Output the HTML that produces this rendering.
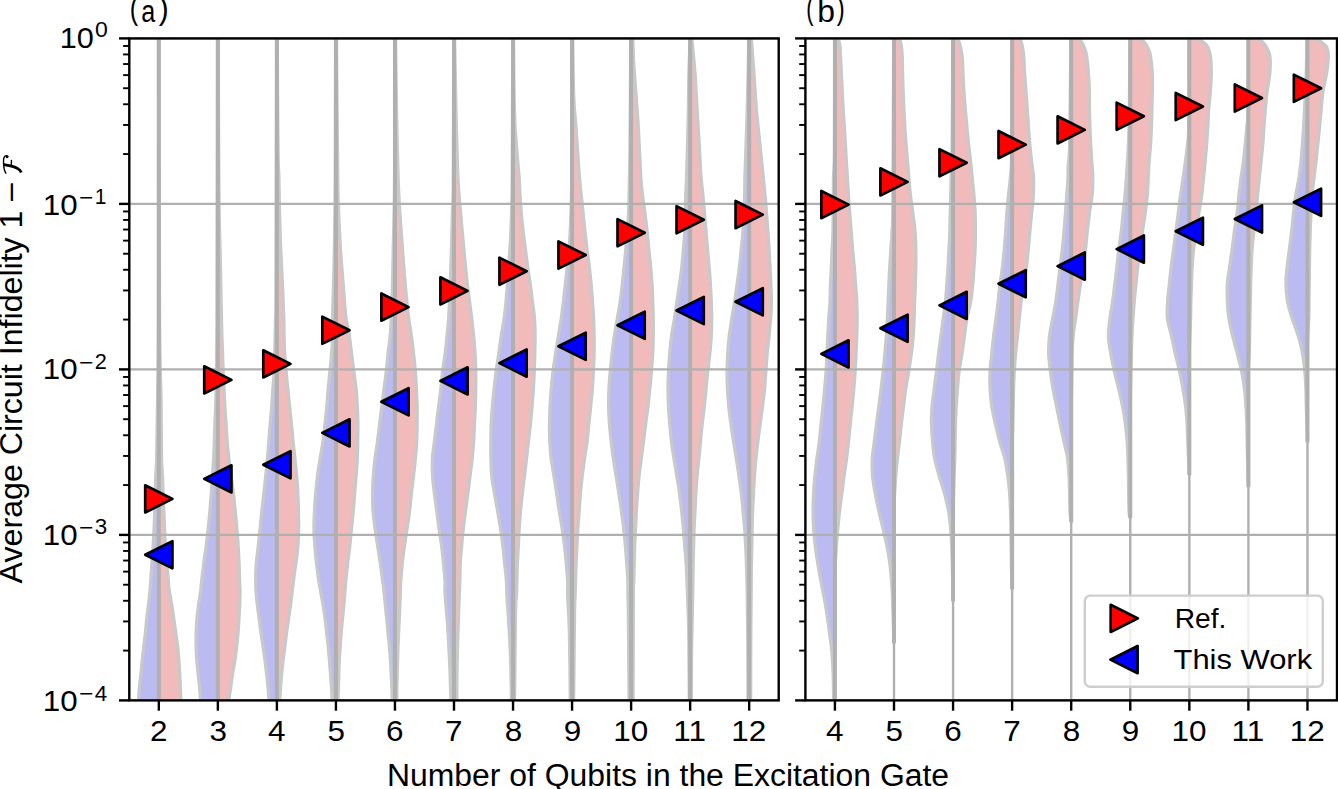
<!DOCTYPE html><html><head><meta charset="utf-8"><style>html,body{margin:0;padding:0;background:#fff;overflow:hidden;}svg{display:block}text{font-family:"Liberation Sans", sans-serif;fill:#000}</style></head><body>
<svg width="1338" height="789" viewBox="0 0 1338 789">
<rect width="1338" height="789" fill="#fff"/>
<defs><clipPath id="ca"><rect x="129.30" y="38.40" width="649.40" height="662.00"/></clipPath><clipPath id="cb"><rect x="805.40" y="38.40" width="531.60" height="662.00"/></clipPath></defs>
<g clip-path="url(#ca)">
<path d="M158.52,30.00 C158.48,78.00 158.48,256.33 158.32,318.00 C158.15,379.67 157.80,376.67 157.52,400.00 C157.23,423.33 156.92,445.33 156.62,458.00 C156.32,470.67 156.15,464.17 155.72,476.00 C155.28,487.83 154.67,514.33 154.02,529.00 C153.37,543.67 152.38,555.17 151.82,564.00 C151.25,572.83 150.92,577.67 150.62,582.00 C150.32,586.33 150.37,586.33 150.02,590.00 C149.67,593.67 149.05,599.33 148.52,604.00 C147.98,608.67 147.35,613.17 146.82,618.00 C146.28,622.83 145.85,628.17 145.32,633.00 C144.78,637.83 144.15,642.33 143.62,647.00 C143.08,651.67 142.60,656.33 142.12,661.00 C141.63,665.67 141.20,670.33 140.72,675.00 C140.23,679.67 139.55,685.17 139.22,689.00 C138.88,692.83 138.95,694.17 138.72,698.00 C138.48,701.83 137.97,709.67 137.82,712.00 L158.82,712.00 L158.82,30.00 Z" fill="#bbbbf2"/>
<path d="M158.52,30.00 C158.48,78.00 158.48,256.33 158.32,318.00 C158.15,379.67 157.80,376.67 157.52,400.00 C157.23,423.33 156.92,445.33 156.62,458.00 C156.32,470.67 156.15,464.17 155.72,476.00 C155.28,487.83 154.67,514.33 154.02,529.00 C153.37,543.67 152.38,555.17 151.82,564.00 C151.25,572.83 150.92,577.67 150.62,582.00 C150.32,586.33 150.37,586.33 150.02,590.00 C149.67,593.67 149.05,599.33 148.52,604.00 C147.98,608.67 147.35,613.17 146.82,618.00 C146.28,622.83 145.85,628.17 145.32,633.00 C144.78,637.83 144.15,642.33 143.62,647.00 C143.08,651.67 142.60,656.33 142.12,661.00 C141.63,665.67 141.20,670.33 140.72,675.00 C140.23,679.67 139.55,685.17 139.22,689.00 C138.88,692.83 138.95,694.17 138.72,698.00 C138.48,701.83 137.97,709.67 137.82,712.00" fill="none" stroke="#c8caca" stroke-width="3.20" stroke-linejoin="round" stroke-linecap="round"/>
<path d="M159.12,30.00 C159.20,78.00 159.28,256.33 159.62,318.00 C159.95,379.67 160.78,376.67 161.12,400.00 C161.45,423.33 161.38,445.33 161.62,458.00 C161.85,470.67 162.02,464.17 162.52,476.00 C163.02,487.83 164.12,517.17 164.62,529.00 C165.12,540.83 165.13,541.17 165.52,547.00 C165.90,552.83 166.42,558.17 166.92,564.00 C167.42,569.83 168.13,577.67 168.52,582.00 C168.90,586.33 168.70,586.33 169.22,590.00 C169.73,593.67 170.87,599.33 171.62,604.00 C172.37,608.67 173.02,613.17 173.72,618.00 C174.42,622.83 175.15,628.17 175.82,633.00 C176.48,637.83 177.18,642.33 177.72,647.00 C178.25,651.67 178.67,656.33 179.02,661.00 C179.37,665.67 179.57,670.33 179.82,675.00 C180.07,679.67 180.35,685.17 180.52,689.00 C180.68,692.83 180.72,694.17 180.82,698.00 C180.92,701.83 181.07,709.67 181.12,712.00 L158.82,712.00 L158.82,30.00 Z" fill="#f2bbbb"/>
<path d="M159.12,30.00 C159.20,78.00 159.28,256.33 159.62,318.00 C159.95,379.67 160.78,376.67 161.12,400.00 C161.45,423.33 161.38,445.33 161.62,458.00 C161.85,470.67 162.02,464.17 162.52,476.00 C163.02,487.83 164.12,517.17 164.62,529.00 C165.12,540.83 165.13,541.17 165.52,547.00 C165.90,552.83 166.42,558.17 166.92,564.00 C167.42,569.83 168.13,577.67 168.52,582.00 C168.90,586.33 168.70,586.33 169.22,590.00 C169.73,593.67 170.87,599.33 171.62,604.00 C172.37,608.67 173.02,613.17 173.72,618.00 C174.42,622.83 175.15,628.17 175.82,633.00 C176.48,637.83 177.18,642.33 177.72,647.00 C178.25,651.67 178.67,656.33 179.02,661.00 C179.37,665.67 179.57,670.33 179.82,675.00 C180.07,679.67 180.35,685.17 180.52,689.00 C180.68,692.83 180.72,694.17 180.82,698.00 C180.92,701.83 181.07,709.67 181.12,712.00" fill="none" stroke="#c8caca" stroke-width="3.20" stroke-linejoin="round" stroke-linecap="round"/>
<path d="M217.55,30.00 C217.45,78.00 217.20,258.17 216.95,318.00 C216.70,377.83 216.29,374.17 216.05,389.00 C215.82,403.83 215.75,401.17 215.55,407.00 C215.35,412.83 215.07,418.17 214.85,424.00 C214.64,429.83 214.47,436.33 214.25,442.00 C214.04,447.67 213.85,452.33 213.55,458.00 C213.25,463.67 212.84,470.17 212.45,476.00 C212.07,481.83 211.69,487.17 211.25,493.00 C210.82,498.83 210.39,505.00 209.85,511.00 C209.32,517.00 208.70,523.00 208.05,529.00 C207.40,535.00 206.69,541.17 205.95,547.00 C205.22,552.83 204.40,558.17 203.65,564.00 C202.90,569.83 201.94,577.67 201.45,582.00 C200.97,586.33 201.22,586.33 200.75,590.00 C200.29,593.67 199.29,599.33 198.65,604.00 C198.02,608.67 197.39,613.17 196.95,618.00 C196.52,622.83 196.20,628.17 196.05,633.00 C195.90,637.83 195.94,642.33 196.05,647.00 C196.17,651.67 196.39,656.33 196.75,661.00 C197.12,665.67 197.77,670.33 198.25,675.00 C198.74,679.67 199.30,685.17 199.65,689.00 C200.00,692.83 200.07,694.17 200.35,698.00 C200.64,701.83 201.19,709.67 201.35,712.00 L217.85,712.00 L217.85,30.00 Z" fill="#bbbbf2"/>
<path d="M217.55,30.00 C217.45,78.00 217.20,258.17 216.95,318.00 C216.70,377.83 216.29,374.17 216.05,389.00 C215.82,403.83 215.75,401.17 215.55,407.00 C215.35,412.83 215.07,418.17 214.85,424.00 C214.64,429.83 214.47,436.33 214.25,442.00 C214.04,447.67 213.85,452.33 213.55,458.00 C213.25,463.67 212.84,470.17 212.45,476.00 C212.07,481.83 211.69,487.17 211.25,493.00 C210.82,498.83 210.39,505.00 209.85,511.00 C209.32,517.00 208.70,523.00 208.05,529.00 C207.40,535.00 206.69,541.17 205.95,547.00 C205.22,552.83 204.40,558.17 203.65,564.00 C202.90,569.83 201.94,577.67 201.45,582.00 C200.97,586.33 201.22,586.33 200.75,590.00 C200.29,593.67 199.29,599.33 198.65,604.00 C198.02,608.67 197.39,613.17 196.95,618.00 C196.52,622.83 196.20,628.17 196.05,633.00 C195.90,637.83 195.94,642.33 196.05,647.00 C196.17,651.67 196.39,656.33 196.75,661.00 C197.12,665.67 197.77,670.33 198.25,675.00 C198.74,679.67 199.30,685.17 199.65,689.00 C200.00,692.83 200.07,694.17 200.35,698.00 C200.64,701.83 201.19,709.67 201.35,712.00" fill="none" stroke="#c8caca" stroke-width="3.20" stroke-linejoin="round" stroke-linecap="round"/>
<path d="M218.15,30.00 C218.30,58.33 218.72,163.33 219.05,200.00 C219.39,236.67 219.85,236.00 220.15,250.00 C220.45,264.00 220.62,272.67 220.85,284.00 C221.09,295.33 221.37,309.33 221.55,318.00 C221.74,326.67 221.77,330.17 221.95,336.00 C222.14,341.83 222.45,347.17 222.65,353.00 C222.85,358.83 222.92,365.00 223.15,371.00 C223.39,377.00 223.75,383.00 224.05,389.00 C224.35,395.00 224.60,401.17 224.95,407.00 C225.30,412.83 225.77,418.17 226.15,424.00 C226.54,429.83 226.80,436.33 227.25,442.00 C227.70,447.67 228.20,452.33 228.85,458.00 C229.50,463.67 230.39,470.17 231.15,476.00 C231.92,481.83 232.77,487.17 233.45,493.00 C234.14,498.83 234.67,505.00 235.25,511.00 C235.84,517.00 236.45,523.00 236.95,529.00 C237.45,535.00 237.89,541.17 238.25,547.00 C238.62,552.83 238.92,558.17 239.15,564.00 C239.39,569.83 239.50,577.67 239.65,582.00 C239.80,586.33 240.04,586.33 240.05,590.00 C240.07,593.67 239.92,599.33 239.75,604.00 C239.59,608.67 239.34,613.17 239.05,618.00 C238.77,622.83 238.45,628.17 238.05,633.00 C237.65,637.83 237.19,642.33 236.65,647.00 C236.12,651.67 235.55,656.33 234.85,661.00 C234.15,665.67 233.17,670.33 232.45,675.00 C231.74,679.67 231.10,685.17 230.55,689.00 C230.00,692.83 229.60,694.17 229.15,698.00 C228.70,701.83 228.07,709.67 227.85,712.00 L217.85,712.00 L217.85,30.00 Z" fill="#f2bbbb"/>
<path d="M218.15,30.00 C218.30,58.33 218.72,163.33 219.05,200.00 C219.39,236.67 219.85,236.00 220.15,250.00 C220.45,264.00 220.62,272.67 220.85,284.00 C221.09,295.33 221.37,309.33 221.55,318.00 C221.74,326.67 221.77,330.17 221.95,336.00 C222.14,341.83 222.45,347.17 222.65,353.00 C222.85,358.83 222.92,365.00 223.15,371.00 C223.39,377.00 223.75,383.00 224.05,389.00 C224.35,395.00 224.60,401.17 224.95,407.00 C225.30,412.83 225.77,418.17 226.15,424.00 C226.54,429.83 226.80,436.33 227.25,442.00 C227.70,447.67 228.20,452.33 228.85,458.00 C229.50,463.67 230.39,470.17 231.15,476.00 C231.92,481.83 232.77,487.17 233.45,493.00 C234.14,498.83 234.67,505.00 235.25,511.00 C235.84,517.00 236.45,523.00 236.95,529.00 C237.45,535.00 237.89,541.17 238.25,547.00 C238.62,552.83 238.92,558.17 239.15,564.00 C239.39,569.83 239.50,577.67 239.65,582.00 C239.80,586.33 240.04,586.33 240.05,590.00 C240.07,593.67 239.92,599.33 239.75,604.00 C239.59,608.67 239.34,613.17 239.05,618.00 C238.77,622.83 238.45,628.17 238.05,633.00 C237.65,637.83 237.19,642.33 236.65,647.00 C236.12,651.67 235.55,656.33 234.85,661.00 C234.15,665.67 233.17,670.33 232.45,675.00 C231.74,679.67 231.10,685.17 230.55,689.00 C230.00,692.83 229.60,694.17 229.15,698.00 C228.70,701.83 228.07,709.67 227.85,712.00" fill="none" stroke="#c8caca" stroke-width="3.20" stroke-linejoin="round" stroke-linecap="round"/>
<path d="M276.59,30.00 C276.47,75.00 276.07,252.00 275.89,300.00 C275.71,348.00 275.77,306.17 275.49,318.00 C275.21,329.83 274.64,359.17 274.19,371.00 C273.74,382.83 273.22,383.00 272.79,389.00 C272.36,395.00 272.02,401.17 271.59,407.00 C271.16,412.83 270.67,418.17 270.19,424.00 C269.71,429.83 269.14,436.33 268.69,442.00 C268.24,447.67 267.99,452.33 267.49,458.00 C266.99,463.67 266.29,470.17 265.69,476.00 C265.09,481.83 264.54,487.17 263.89,493.00 C263.24,498.83 262.44,505.00 261.79,511.00 C261.14,517.00 260.61,523.00 259.99,529.00 C259.37,535.00 258.69,541.50 258.09,547.00 C257.49,552.50 256.79,557.33 256.39,562.00 C255.99,566.67 255.77,570.33 255.69,575.00 C255.61,579.67 255.64,585.17 255.89,590.00 C256.14,594.83 256.67,599.33 257.19,604.00 C257.71,608.67 258.36,613.17 258.99,618.00 C259.62,622.83 260.31,628.17 260.99,633.00 C261.67,637.83 262.42,642.33 263.09,647.00 C263.76,651.67 264.39,656.33 264.99,661.00 C265.59,665.67 266.17,670.33 266.69,675.00 C267.21,679.67 267.74,685.17 268.09,689.00 C268.44,692.83 268.52,694.17 268.79,698.00 C269.06,701.83 269.54,709.67 269.69,712.00 L276.89,712.00 L276.89,30.00 Z" fill="#bbbbf2"/>
<path d="M276.59,30.00 C276.47,75.00 276.07,252.00 275.89,300.00 C275.71,348.00 275.77,306.17 275.49,318.00 C275.21,329.83 274.64,359.17 274.19,371.00 C273.74,382.83 273.22,383.00 272.79,389.00 C272.36,395.00 272.02,401.17 271.59,407.00 C271.16,412.83 270.67,418.17 270.19,424.00 C269.71,429.83 269.14,436.33 268.69,442.00 C268.24,447.67 267.99,452.33 267.49,458.00 C266.99,463.67 266.29,470.17 265.69,476.00 C265.09,481.83 264.54,487.17 263.89,493.00 C263.24,498.83 262.44,505.00 261.79,511.00 C261.14,517.00 260.61,523.00 259.99,529.00 C259.37,535.00 258.69,541.50 258.09,547.00 C257.49,552.50 256.79,557.33 256.39,562.00 C255.99,566.67 255.77,570.33 255.69,575.00 C255.61,579.67 255.64,585.17 255.89,590.00 C256.14,594.83 256.67,599.33 257.19,604.00 C257.71,608.67 258.36,613.17 258.99,618.00 C259.62,622.83 260.31,628.17 260.99,633.00 C261.67,637.83 262.42,642.33 263.09,647.00 C263.76,651.67 264.39,656.33 264.99,661.00 C265.59,665.67 266.17,670.33 266.69,675.00 C267.21,679.67 267.74,685.17 268.09,689.00 C268.44,692.83 268.52,694.17 268.79,698.00 C269.06,701.83 269.54,709.67 269.69,712.00" fill="none" stroke="#c8caca" stroke-width="3.20" stroke-linejoin="round" stroke-linecap="round"/>
<path d="M277.19,30.00 C277.34,50.00 277.79,125.33 278.09,150.00 C278.39,174.67 278.74,167.50 278.99,178.00 C279.24,188.50 279.29,201.17 279.59,213.00 C279.89,224.83 280.31,237.17 280.79,249.00 C281.27,260.83 281.99,272.83 282.49,284.00 C282.99,295.17 283.51,307.33 283.79,316.00 C284.07,324.67 284.04,329.83 284.19,336.00 C284.34,342.17 284.37,347.17 284.69,353.00 C285.01,358.83 285.56,365.00 286.09,371.00 C286.62,377.00 287.29,383.00 287.89,389.00 C288.49,395.00 289.09,401.17 289.69,407.00 C290.29,412.83 290.91,418.17 291.49,424.00 C292.07,429.83 292.62,436.33 293.19,442.00 C293.76,447.67 294.31,452.33 294.89,458.00 C295.47,463.67 296.19,470.17 296.69,476.00 C297.19,481.83 297.59,487.17 297.89,493.00 C298.19,498.83 298.36,505.00 298.49,511.00 C298.62,517.00 298.79,523.00 298.69,529.00 C298.59,535.00 298.27,541.83 297.89,547.00 C297.51,552.17 296.99,555.33 296.39,560.00 C295.79,564.67 294.96,570.00 294.29,575.00 C293.62,580.00 292.99,585.17 292.39,590.00 C291.79,594.83 291.31,599.33 290.69,604.00 C290.07,608.67 289.37,613.17 288.69,618.00 C288.01,622.83 287.22,628.17 286.59,633.00 C285.96,637.83 285.47,642.33 284.89,647.00 C284.31,651.67 283.64,656.33 283.09,661.00 C282.54,665.67 282.02,670.33 281.59,675.00 C281.16,679.67 280.77,685.17 280.49,689.00 C280.21,692.83 280.07,694.17 279.89,698.00 C279.71,701.83 279.47,709.67 279.39,712.00 L276.89,712.00 L276.89,30.00 Z" fill="#f2bbbb"/>
<path d="M277.19,30.00 C277.34,50.00 277.79,125.33 278.09,150.00 C278.39,174.67 278.74,167.50 278.99,178.00 C279.24,188.50 279.29,201.17 279.59,213.00 C279.89,224.83 280.31,237.17 280.79,249.00 C281.27,260.83 281.99,272.83 282.49,284.00 C282.99,295.17 283.51,307.33 283.79,316.00 C284.07,324.67 284.04,329.83 284.19,336.00 C284.34,342.17 284.37,347.17 284.69,353.00 C285.01,358.83 285.56,365.00 286.09,371.00 C286.62,377.00 287.29,383.00 287.89,389.00 C288.49,395.00 289.09,401.17 289.69,407.00 C290.29,412.83 290.91,418.17 291.49,424.00 C292.07,429.83 292.62,436.33 293.19,442.00 C293.76,447.67 294.31,452.33 294.89,458.00 C295.47,463.67 296.19,470.17 296.69,476.00 C297.19,481.83 297.59,487.17 297.89,493.00 C298.19,498.83 298.36,505.00 298.49,511.00 C298.62,517.00 298.79,523.00 298.69,529.00 C298.59,535.00 298.27,541.83 297.89,547.00 C297.51,552.17 296.99,555.33 296.39,560.00 C295.79,564.67 294.96,570.00 294.29,575.00 C293.62,580.00 292.99,585.17 292.39,590.00 C291.79,594.83 291.31,599.33 290.69,604.00 C290.07,608.67 289.37,613.17 288.69,618.00 C288.01,622.83 287.22,628.17 286.59,633.00 C285.96,637.83 285.47,642.33 284.89,647.00 C284.31,651.67 283.64,656.33 283.09,661.00 C282.54,665.67 282.02,670.33 281.59,675.00 C281.16,679.67 280.77,685.17 280.49,689.00 C280.21,692.83 280.07,694.17 279.89,698.00 C279.71,701.83 279.47,709.67 279.39,712.00" fill="none" stroke="#c8caca" stroke-width="3.20" stroke-linejoin="round" stroke-linecap="round"/>
<path d="M335.63,30.00 C335.56,54.67 335.44,141.50 335.23,178.00 C335.01,214.50 334.63,231.33 334.33,249.00 C334.03,266.67 333.73,272.83 333.43,284.00 C333.13,295.17 332.68,307.33 332.53,316.00 C332.38,324.67 332.68,329.83 332.53,336.00 C332.38,342.17 332.06,347.17 331.63,353.00 C331.19,358.83 330.51,365.00 329.93,371.00 C329.34,377.00 328.66,383.00 328.13,389.00 C327.59,395.00 327.26,401.17 326.73,407.00 C326.19,412.83 325.58,418.17 324.93,424.00 C324.28,429.83 323.63,436.33 322.83,442.00 C322.03,447.67 321.03,452.33 320.13,458.00 C319.23,463.67 318.18,470.17 317.43,476.00 C316.68,481.83 316.13,487.17 315.63,493.00 C315.13,498.83 314.71,505.00 314.43,511.00 C314.14,517.00 313.86,523.00 313.93,529.00 C313.99,535.00 314.39,541.17 314.83,547.00 C315.26,552.83 315.84,558.17 316.53,564.00 C317.21,569.83 318.29,577.67 318.93,582.00 C319.56,586.33 319.68,586.33 320.33,590.00 C320.98,593.67 322.06,599.33 322.83,604.00 C323.59,608.67 324.29,613.17 324.93,618.00 C325.56,622.83 326.08,628.17 326.63,633.00 C327.18,637.83 327.76,642.33 328.23,647.00 C328.69,651.67 329.04,656.33 329.43,661.00 C329.81,665.67 330.18,670.33 330.53,675.00 C330.88,679.67 331.28,685.17 331.53,689.00 C331.78,692.83 331.86,694.17 332.03,698.00 C332.19,701.83 332.44,709.67 332.53,712.00 L335.93,712.00 L335.93,30.00 Z" fill="#bbbbf2"/>
<path d="M335.63,30.00 C335.56,54.67 335.44,141.50 335.23,178.00 C335.01,214.50 334.63,231.33 334.33,249.00 C334.03,266.67 333.73,272.83 333.43,284.00 C333.13,295.17 332.68,307.33 332.53,316.00 C332.38,324.67 332.68,329.83 332.53,336.00 C332.38,342.17 332.06,347.17 331.63,353.00 C331.19,358.83 330.51,365.00 329.93,371.00 C329.34,377.00 328.66,383.00 328.13,389.00 C327.59,395.00 327.26,401.17 326.73,407.00 C326.19,412.83 325.58,418.17 324.93,424.00 C324.28,429.83 323.63,436.33 322.83,442.00 C322.03,447.67 321.03,452.33 320.13,458.00 C319.23,463.67 318.18,470.17 317.43,476.00 C316.68,481.83 316.13,487.17 315.63,493.00 C315.13,498.83 314.71,505.00 314.43,511.00 C314.14,517.00 313.86,523.00 313.93,529.00 C313.99,535.00 314.39,541.17 314.83,547.00 C315.26,552.83 315.84,558.17 316.53,564.00 C317.21,569.83 318.29,577.67 318.93,582.00 C319.56,586.33 319.68,586.33 320.33,590.00 C320.98,593.67 322.06,599.33 322.83,604.00 C323.59,608.67 324.29,613.17 324.93,618.00 C325.56,622.83 326.08,628.17 326.63,633.00 C327.18,637.83 327.76,642.33 328.23,647.00 C328.69,651.67 329.04,656.33 329.43,661.00 C329.81,665.67 330.18,670.33 330.53,675.00 C330.88,679.67 331.28,685.17 331.53,689.00 C331.78,692.83 331.86,694.17 332.03,698.00 C332.19,701.83 332.44,709.67 332.53,712.00" fill="none" stroke="#c8caca" stroke-width="3.20" stroke-linejoin="round" stroke-linecap="round"/>
<path d="M336.43,30.00 C336.66,54.67 337.44,147.50 337.83,178.00 C338.21,208.50 338.28,201.17 338.73,213.00 C339.18,224.83 339.78,237.17 340.53,249.00 C341.28,260.83 342.34,272.83 343.23,284.00 C344.11,295.17 344.79,307.33 345.83,316.00 C346.86,324.67 348.48,329.83 349.43,336.00 C350.38,342.17 350.79,347.17 351.53,353.00 C352.26,358.83 353.06,365.00 353.83,371.00 C354.59,377.00 355.53,383.00 356.13,389.00 C356.73,395.00 357.13,401.17 357.43,407.00 C357.73,412.83 357.88,418.17 357.93,424.00 C357.98,429.83 357.81,436.33 357.73,442.00 C357.64,447.67 357.69,452.33 357.43,458.00 C357.16,463.67 356.58,470.17 356.13,476.00 C355.68,481.83 355.19,487.17 354.73,493.00 C354.26,498.83 353.86,505.00 353.33,511.00 C352.79,517.00 352.13,523.00 351.53,529.00 C350.93,535.00 350.38,541.17 349.73,547.00 C349.08,552.83 348.29,558.17 347.63,564.00 C346.96,569.83 346.14,577.67 345.73,582.00 C345.31,586.33 345.41,586.33 345.13,590.00 C344.84,593.67 344.44,599.33 344.03,604.00 C343.61,608.67 343.09,613.17 342.63,618.00 C342.16,622.83 341.63,628.17 341.23,633.00 C340.83,637.83 340.54,642.33 340.23,647.00 C339.91,651.67 339.56,656.33 339.33,661.00 C339.09,665.67 338.98,670.33 338.83,675.00 C338.68,679.67 338.54,685.17 338.43,689.00 C338.31,692.83 338.21,694.17 338.13,698.00 C338.04,701.83 337.96,709.67 337.93,712.00 L335.93,712.00 L335.93,30.00 Z" fill="#f2bbbb"/>
<path d="M336.43,30.00 C336.66,54.67 337.44,147.50 337.83,178.00 C338.21,208.50 338.28,201.17 338.73,213.00 C339.18,224.83 339.78,237.17 340.53,249.00 C341.28,260.83 342.34,272.83 343.23,284.00 C344.11,295.17 344.79,307.33 345.83,316.00 C346.86,324.67 348.48,329.83 349.43,336.00 C350.38,342.17 350.79,347.17 351.53,353.00 C352.26,358.83 353.06,365.00 353.83,371.00 C354.59,377.00 355.53,383.00 356.13,389.00 C356.73,395.00 357.13,401.17 357.43,407.00 C357.73,412.83 357.88,418.17 357.93,424.00 C357.98,429.83 357.81,436.33 357.73,442.00 C357.64,447.67 357.69,452.33 357.43,458.00 C357.16,463.67 356.58,470.17 356.13,476.00 C355.68,481.83 355.19,487.17 354.73,493.00 C354.26,498.83 353.86,505.00 353.33,511.00 C352.79,517.00 352.13,523.00 351.53,529.00 C350.93,535.00 350.38,541.17 349.73,547.00 C349.08,552.83 348.29,558.17 347.63,564.00 C346.96,569.83 346.14,577.67 345.73,582.00 C345.31,586.33 345.41,586.33 345.13,590.00 C344.84,593.67 344.44,599.33 344.03,604.00 C343.61,608.67 343.09,613.17 342.63,618.00 C342.16,622.83 341.63,628.17 341.23,633.00 C340.83,637.83 340.54,642.33 340.23,647.00 C339.91,651.67 339.56,656.33 339.33,661.00 C339.09,665.67 338.98,670.33 338.83,675.00 C338.68,679.67 338.54,685.17 338.43,689.00 C338.31,692.83 338.21,694.17 338.13,698.00 C338.04,701.83 337.96,709.67 337.93,712.00" fill="none" stroke="#c8caca" stroke-width="3.20" stroke-linejoin="round" stroke-linecap="round"/>
<path d="M394.66,30.00 C394.65,54.67 394.81,141.50 394.56,178.00 C394.31,214.50 393.51,231.33 393.16,249.00 C392.81,266.67 392.76,272.83 392.46,284.00 C392.16,295.17 391.75,307.33 391.36,316.00 C390.98,324.67 390.71,329.83 390.16,336.00 C389.61,342.17 388.71,347.17 388.06,353.00 C387.41,358.83 386.95,365.00 386.26,371.00 C385.58,377.00 384.73,383.00 383.96,389.00 C383.20,395.00 382.40,401.17 381.66,407.00 C380.93,412.83 380.28,418.17 379.56,424.00 C378.85,429.83 378.11,436.33 377.36,442.00 C376.61,447.67 375.75,452.33 375.06,458.00 C374.38,463.67 373.70,470.17 373.26,476.00 C372.83,481.83 372.51,487.17 372.46,493.00 C372.41,498.83 372.53,505.00 372.96,511.00 C373.40,517.00 374.26,523.00 375.06,529.00 C375.86,535.00 376.88,541.17 377.76,547.00 C378.65,552.83 379.53,558.17 380.36,564.00 C381.20,569.83 382.20,577.67 382.76,582.00 C383.33,586.33 383.36,586.33 383.76,590.00 C384.16,593.67 384.70,599.33 385.16,604.00 C385.63,608.67 386.10,613.17 386.56,618.00 C387.03,622.83 387.48,628.17 387.96,633.00 C388.45,637.83 389.05,642.33 389.46,647.00 C389.88,651.67 390.18,656.33 390.46,661.00 C390.75,665.67 390.93,670.33 391.16,675.00 C391.40,679.67 391.70,685.17 391.86,689.00 C392.03,692.83 392.06,694.17 392.16,698.00 C392.26,701.83 392.41,709.67 392.46,712.00 L394.96,712.00 L394.96,30.00 Z" fill="#bbbbf2"/>
<path d="M394.66,30.00 C394.65,54.67 394.81,141.50 394.56,178.00 C394.31,214.50 393.51,231.33 393.16,249.00 C392.81,266.67 392.76,272.83 392.46,284.00 C392.16,295.17 391.75,307.33 391.36,316.00 C390.98,324.67 390.71,329.83 390.16,336.00 C389.61,342.17 388.71,347.17 388.06,353.00 C387.41,358.83 386.95,365.00 386.26,371.00 C385.58,377.00 384.73,383.00 383.96,389.00 C383.20,395.00 382.40,401.17 381.66,407.00 C380.93,412.83 380.28,418.17 379.56,424.00 C378.85,429.83 378.11,436.33 377.36,442.00 C376.61,447.67 375.75,452.33 375.06,458.00 C374.38,463.67 373.70,470.17 373.26,476.00 C372.83,481.83 372.51,487.17 372.46,493.00 C372.41,498.83 372.53,505.00 372.96,511.00 C373.40,517.00 374.26,523.00 375.06,529.00 C375.86,535.00 376.88,541.17 377.76,547.00 C378.65,552.83 379.53,558.17 380.36,564.00 C381.20,569.83 382.20,577.67 382.76,582.00 C383.33,586.33 383.36,586.33 383.76,590.00 C384.16,593.67 384.70,599.33 385.16,604.00 C385.63,608.67 386.10,613.17 386.56,618.00 C387.03,622.83 387.48,628.17 387.96,633.00 C388.45,637.83 389.05,642.33 389.46,647.00 C389.88,651.67 390.18,656.33 390.46,661.00 C390.75,665.67 390.93,670.33 391.16,675.00 C391.40,679.67 391.70,685.17 391.86,689.00 C392.03,692.83 392.06,694.17 392.16,698.00 C392.26,701.83 392.41,709.67 392.46,712.00" fill="none" stroke="#c8caca" stroke-width="3.20" stroke-linejoin="round" stroke-linecap="round"/>
<path d="M395.46,30.00 C395.68,45.00 396.31,95.33 396.76,120.00 C397.21,144.67 397.63,162.50 398.16,178.00 C398.70,193.50 399.23,201.17 399.96,213.00 C400.70,224.83 401.68,237.17 402.56,249.00 C403.45,260.83 404.28,272.83 405.26,284.00 C406.25,295.17 407.43,307.33 408.46,316.00 C409.50,324.67 410.61,329.83 411.46,336.00 C412.31,342.17 412.91,347.17 413.56,353.00 C414.21,358.83 414.88,365.00 415.36,371.00 C415.85,377.00 416.16,383.00 416.46,389.00 C416.76,395.00 417.05,401.17 417.16,407.00 C417.28,412.83 417.23,418.17 417.16,424.00 C417.10,429.83 417.05,436.33 416.76,442.00 C416.48,447.67 416.00,452.33 415.46,458.00 C414.93,463.67 414.23,470.17 413.56,476.00 C412.90,481.83 412.11,487.17 411.46,493.00 C410.81,498.83 410.40,505.00 409.66,511.00 C408.93,517.00 407.95,523.00 407.06,529.00 C406.18,535.00 405.16,541.17 404.36,547.00 C403.56,552.83 402.86,558.17 402.26,564.00 C401.66,569.83 401.06,577.67 400.76,582.00 C400.46,586.33 400.60,586.33 400.46,590.00 C400.33,593.67 400.15,599.33 399.96,604.00 C399.78,608.67 399.58,613.17 399.36,618.00 C399.15,622.83 398.88,628.17 398.66,633.00 C398.45,637.83 398.23,642.33 398.06,647.00 C397.90,651.67 397.80,656.33 397.66,661.00 C397.53,665.67 397.38,670.33 397.26,675.00 C397.15,679.67 397.05,682.83 396.96,689.00 C396.88,695.17 396.80,708.17 396.76,712.00 L394.96,712.00 L394.96,30.00 Z" fill="#f2bbbb"/>
<path d="M395.46,30.00 C395.68,45.00 396.31,95.33 396.76,120.00 C397.21,144.67 397.63,162.50 398.16,178.00 C398.70,193.50 399.23,201.17 399.96,213.00 C400.70,224.83 401.68,237.17 402.56,249.00 C403.45,260.83 404.28,272.83 405.26,284.00 C406.25,295.17 407.43,307.33 408.46,316.00 C409.50,324.67 410.61,329.83 411.46,336.00 C412.31,342.17 412.91,347.17 413.56,353.00 C414.21,358.83 414.88,365.00 415.36,371.00 C415.85,377.00 416.16,383.00 416.46,389.00 C416.76,395.00 417.05,401.17 417.16,407.00 C417.28,412.83 417.23,418.17 417.16,424.00 C417.10,429.83 417.05,436.33 416.76,442.00 C416.48,447.67 416.00,452.33 415.46,458.00 C414.93,463.67 414.23,470.17 413.56,476.00 C412.90,481.83 412.11,487.17 411.46,493.00 C410.81,498.83 410.40,505.00 409.66,511.00 C408.93,517.00 407.95,523.00 407.06,529.00 C406.18,535.00 405.16,541.17 404.36,547.00 C403.56,552.83 402.86,558.17 402.26,564.00 C401.66,569.83 401.06,577.67 400.76,582.00 C400.46,586.33 400.60,586.33 400.46,590.00 C400.33,593.67 400.15,599.33 399.96,604.00 C399.78,608.67 399.58,613.17 399.36,618.00 C399.15,622.83 398.88,628.17 398.66,633.00 C398.45,637.83 398.23,642.33 398.06,647.00 C397.90,651.67 397.80,656.33 397.66,661.00 C397.53,665.67 397.38,670.33 397.26,675.00 C397.15,679.67 397.05,682.83 396.96,689.00 C396.88,695.17 396.80,708.17 396.76,712.00" fill="none" stroke="#c8caca" stroke-width="3.20" stroke-linejoin="round" stroke-linecap="round"/>
<path d="M453.70,30.00 C453.62,54.67 453.43,147.50 453.20,178.00 C452.97,208.50 452.60,201.17 452.30,213.00 C452.00,224.83 451.75,237.17 451.40,249.00 C451.05,260.83 450.65,272.83 450.20,284.00 C449.75,295.17 449.23,307.33 448.70,316.00 C448.17,324.67 447.58,329.83 447.00,336.00 C446.42,342.17 445.93,347.17 445.20,353.00 C444.47,358.83 443.33,365.00 442.60,371.00 C441.87,377.00 441.48,383.00 440.80,389.00 C440.12,395.00 439.23,401.17 438.50,407.00 C437.77,412.83 437.10,418.17 436.40,424.00 C435.70,429.83 434.97,436.33 434.30,442.00 C433.63,447.67 432.70,452.33 432.40,458.00 C432.10,463.67 432.18,470.17 432.50,476.00 C432.82,481.83 433.60,487.17 434.30,493.00 C435.00,498.83 435.92,505.00 436.70,511.00 C437.48,517.00 438.17,523.00 439.00,529.00 C439.83,535.00 440.95,541.17 441.70,547.00 C442.45,552.83 442.95,558.17 443.50,564.00 C444.05,569.83 444.78,577.67 445.00,582.00 C445.22,586.33 444.67,586.33 444.80,590.00 C444.93,593.67 445.43,599.33 445.80,604.00 C446.17,608.67 446.63,613.17 447.00,618.00 C447.37,622.83 447.70,628.17 448.00,633.00 C448.30,637.83 448.55,642.33 448.80,647.00 C449.05,651.67 449.28,656.33 449.50,661.00 C449.72,665.67 449.93,670.33 450.10,675.00 C450.27,679.67 450.38,685.17 450.50,689.00 C450.62,692.83 450.72,694.17 450.80,698.00 C450.88,701.83 450.97,709.67 451.00,712.00 L454.00,712.00 L454.00,30.00 Z" fill="#bbbbf2"/>
<path d="M453.70,30.00 C453.62,54.67 453.43,147.50 453.20,178.00 C452.97,208.50 452.60,201.17 452.30,213.00 C452.00,224.83 451.75,237.17 451.40,249.00 C451.05,260.83 450.65,272.83 450.20,284.00 C449.75,295.17 449.23,307.33 448.70,316.00 C448.17,324.67 447.58,329.83 447.00,336.00 C446.42,342.17 445.93,347.17 445.20,353.00 C444.47,358.83 443.33,365.00 442.60,371.00 C441.87,377.00 441.48,383.00 440.80,389.00 C440.12,395.00 439.23,401.17 438.50,407.00 C437.77,412.83 437.10,418.17 436.40,424.00 C435.70,429.83 434.97,436.33 434.30,442.00 C433.63,447.67 432.70,452.33 432.40,458.00 C432.10,463.67 432.18,470.17 432.50,476.00 C432.82,481.83 433.60,487.17 434.30,493.00 C435.00,498.83 435.92,505.00 436.70,511.00 C437.48,517.00 438.17,523.00 439.00,529.00 C439.83,535.00 440.95,541.17 441.70,547.00 C442.45,552.83 442.95,558.17 443.50,564.00 C444.05,569.83 444.78,577.67 445.00,582.00 C445.22,586.33 444.67,586.33 444.80,590.00 C444.93,593.67 445.43,599.33 445.80,604.00 C446.17,608.67 446.63,613.17 447.00,618.00 C447.37,622.83 447.70,628.17 448.00,633.00 C448.30,637.83 448.55,642.33 448.80,647.00 C449.05,651.67 449.28,656.33 449.50,661.00 C449.72,665.67 449.93,670.33 450.10,675.00 C450.27,679.67 450.38,685.17 450.50,689.00 C450.62,692.83 450.72,694.17 450.80,698.00 C450.88,701.83 450.97,709.67 451.00,712.00" fill="none" stroke="#c8caca" stroke-width="3.20" stroke-linejoin="round" stroke-linecap="round"/>
<path d="M454.50,30.00 C454.72,41.67 455.22,75.33 455.80,100.00 C456.38,124.67 457.18,159.17 458.00,178.00 C458.82,196.83 459.72,201.17 460.70,213.00 C461.68,224.83 462.78,237.17 463.90,249.00 C465.02,260.83 466.13,272.83 467.40,284.00 C468.67,295.17 470.45,307.33 471.50,316.00 C472.55,324.67 473.10,329.83 473.70,336.00 C474.30,342.17 474.75,347.17 475.10,353.00 C475.45,358.83 475.68,365.00 475.80,371.00 C475.92,377.00 475.87,383.00 475.80,389.00 C475.73,395.00 475.62,401.17 475.40,407.00 C475.18,412.83 474.78,418.17 474.50,424.00 C474.22,429.83 474.07,436.33 473.70,442.00 C473.33,447.67 472.90,452.33 472.30,458.00 C471.70,463.67 470.82,470.17 470.10,476.00 C469.38,481.83 468.75,487.17 468.00,493.00 C467.25,498.83 466.38,505.00 465.60,511.00 C464.82,517.00 463.97,523.00 463.30,529.00 C462.63,535.00 462.10,541.17 461.60,547.00 C461.10,552.83 460.58,558.17 460.30,564.00 C460.02,569.83 460.02,577.67 459.90,582.00 C459.78,586.33 459.75,586.33 459.60,590.00 C459.45,593.67 459.17,599.33 459.00,604.00 C458.83,608.67 458.77,613.17 458.60,618.00 C458.43,622.83 458.17,628.17 458.00,633.00 C457.83,637.83 457.72,642.33 457.60,647.00 C457.48,651.67 457.40,656.33 457.30,661.00 C457.20,665.67 457.07,670.33 457.00,675.00 C456.93,679.67 456.93,682.83 456.90,689.00 C456.87,695.17 456.82,708.17 456.80,712.00 L454.00,712.00 L454.00,30.00 Z" fill="#f2bbbb"/>
<path d="M454.50,30.00 C454.72,41.67 455.22,75.33 455.80,100.00 C456.38,124.67 457.18,159.17 458.00,178.00 C458.82,196.83 459.72,201.17 460.70,213.00 C461.68,224.83 462.78,237.17 463.90,249.00 C465.02,260.83 466.13,272.83 467.40,284.00 C468.67,295.17 470.45,307.33 471.50,316.00 C472.55,324.67 473.10,329.83 473.70,336.00 C474.30,342.17 474.75,347.17 475.10,353.00 C475.45,358.83 475.68,365.00 475.80,371.00 C475.92,377.00 475.87,383.00 475.80,389.00 C475.73,395.00 475.62,401.17 475.40,407.00 C475.18,412.83 474.78,418.17 474.50,424.00 C474.22,429.83 474.07,436.33 473.70,442.00 C473.33,447.67 472.90,452.33 472.30,458.00 C471.70,463.67 470.82,470.17 470.10,476.00 C469.38,481.83 468.75,487.17 468.00,493.00 C467.25,498.83 466.38,505.00 465.60,511.00 C464.82,517.00 463.97,523.00 463.30,529.00 C462.63,535.00 462.10,541.17 461.60,547.00 C461.10,552.83 460.58,558.17 460.30,564.00 C460.02,569.83 460.02,577.67 459.90,582.00 C459.78,586.33 459.75,586.33 459.60,590.00 C459.45,593.67 459.17,599.33 459.00,604.00 C458.83,608.67 458.77,613.17 458.60,618.00 C458.43,622.83 458.17,628.17 458.00,633.00 C457.83,637.83 457.72,642.33 457.60,647.00 C457.48,651.67 457.40,656.33 457.30,661.00 C457.20,665.67 457.07,670.33 457.00,675.00 C456.93,679.67 456.93,682.83 456.90,689.00 C456.87,695.17 456.82,708.17 456.80,712.00" fill="none" stroke="#c8caca" stroke-width="3.20" stroke-linejoin="round" stroke-linecap="round"/>
<path d="M512.74,30.00 C512.64,54.67 512.45,144.50 512.14,178.00 C511.82,211.50 511.22,219.17 510.84,231.00 C510.45,242.83 510.42,240.17 509.84,249.00 C509.25,257.83 507.99,275.17 507.34,284.00 C506.69,292.83 506.47,296.33 505.94,302.00 C505.40,307.67 504.94,312.33 504.14,318.00 C503.34,323.67 502.02,330.17 501.14,336.00 C500.25,341.83 499.67,347.17 498.84,353.00 C498.00,358.83 496.94,365.00 496.14,371.00 C495.34,377.00 494.69,383.00 494.04,389.00 C493.39,395.00 492.72,401.17 492.24,407.00 C491.75,412.83 491.37,418.17 491.14,424.00 C490.90,429.83 490.89,436.33 490.84,442.00 C490.79,447.67 490.69,452.33 490.84,458.00 C490.99,463.67 491.15,470.17 491.74,476.00 C492.32,481.83 493.37,487.17 494.34,493.00 C495.30,498.83 496.50,505.00 497.54,511.00 C498.57,517.00 499.64,523.00 500.54,529.00 C501.44,535.00 502.25,541.17 502.94,547.00 C503.62,552.83 504.05,558.17 504.64,564.00 C505.22,569.83 506.07,576.67 506.44,582.00 C506.80,587.33 506.55,590.67 506.84,596.00 C507.12,601.33 507.59,605.17 508.14,614.00 C508.69,622.83 509.64,637.17 510.14,649.00 C510.64,660.83 510.94,674.50 511.14,685.00 C511.34,695.50 511.30,707.50 511.34,712.00 L513.04,712.00 L513.04,30.00 Z" fill="#bbbbf2"/>
<path d="M512.74,30.00 C512.64,54.67 512.45,144.50 512.14,178.00 C511.82,211.50 511.22,219.17 510.84,231.00 C510.45,242.83 510.42,240.17 509.84,249.00 C509.25,257.83 507.99,275.17 507.34,284.00 C506.69,292.83 506.47,296.33 505.94,302.00 C505.40,307.67 504.94,312.33 504.14,318.00 C503.34,323.67 502.02,330.17 501.14,336.00 C500.25,341.83 499.67,347.17 498.84,353.00 C498.00,358.83 496.94,365.00 496.14,371.00 C495.34,377.00 494.69,383.00 494.04,389.00 C493.39,395.00 492.72,401.17 492.24,407.00 C491.75,412.83 491.37,418.17 491.14,424.00 C490.90,429.83 490.89,436.33 490.84,442.00 C490.79,447.67 490.69,452.33 490.84,458.00 C490.99,463.67 491.15,470.17 491.74,476.00 C492.32,481.83 493.37,487.17 494.34,493.00 C495.30,498.83 496.50,505.00 497.54,511.00 C498.57,517.00 499.64,523.00 500.54,529.00 C501.44,535.00 502.25,541.17 502.94,547.00 C503.62,552.83 504.05,558.17 504.64,564.00 C505.22,569.83 506.07,576.67 506.44,582.00 C506.80,587.33 506.55,590.67 506.84,596.00 C507.12,601.33 507.59,605.17 508.14,614.00 C508.69,622.83 509.64,637.17 510.14,649.00 C510.64,660.83 510.94,674.50 511.14,685.00 C511.34,695.50 511.30,707.50 511.34,712.00" fill="none" stroke="#c8caca" stroke-width="3.20" stroke-linejoin="round" stroke-linecap="round"/>
<path d="M513.34,30.00 C513.52,43.50 513.90,91.67 514.44,111.00 C514.97,130.33 515.74,134.83 516.54,146.00 C517.34,157.17 518.64,169.67 519.24,178.00 C519.84,186.33 519.79,190.17 520.14,196.00 C520.49,201.83 520.84,207.17 521.34,213.00 C521.84,218.83 522.45,225.00 523.14,231.00 C523.82,237.00 524.67,243.00 525.44,249.00 C526.20,255.00 526.94,261.17 527.74,267.00 C528.54,272.83 529.44,278.17 530.24,284.00 C531.04,289.83 531.82,296.33 532.54,302.00 C533.25,307.67 534.10,312.33 534.54,318.00 C534.97,323.67 535.09,330.17 535.14,336.00 C535.19,341.83 534.97,347.17 534.84,353.00 C534.70,358.83 534.57,365.00 534.34,371.00 C534.10,377.00 533.82,383.00 533.44,389.00 C533.05,395.00 532.54,401.17 532.04,407.00 C531.54,412.83 531.04,418.17 530.44,424.00 C529.84,429.83 529.07,436.33 528.44,442.00 C527.80,447.67 527.29,452.33 526.64,458.00 C525.99,463.67 525.24,470.17 524.54,476.00 C523.84,481.83 523.09,487.17 522.44,493.00 C521.79,498.83 521.17,505.00 520.64,511.00 C520.10,517.00 519.62,523.00 519.24,529.00 C518.85,535.00 518.64,541.17 518.34,547.00 C518.04,552.83 517.67,558.17 517.44,564.00 C517.20,569.83 517.09,576.67 516.94,582.00 C516.79,587.33 516.77,590.67 516.54,596.00 C516.30,601.33 515.87,594.67 515.54,614.00 C515.20,633.33 514.70,695.67 514.54,712.00 L513.04,712.00 L513.04,30.00 Z" fill="#f2bbbb"/>
<path d="M513.34,30.00 C513.52,43.50 513.90,91.67 514.44,111.00 C514.97,130.33 515.74,134.83 516.54,146.00 C517.34,157.17 518.64,169.67 519.24,178.00 C519.84,186.33 519.79,190.17 520.14,196.00 C520.49,201.83 520.84,207.17 521.34,213.00 C521.84,218.83 522.45,225.00 523.14,231.00 C523.82,237.00 524.67,243.00 525.44,249.00 C526.20,255.00 526.94,261.17 527.74,267.00 C528.54,272.83 529.44,278.17 530.24,284.00 C531.04,289.83 531.82,296.33 532.54,302.00 C533.25,307.67 534.10,312.33 534.54,318.00 C534.97,323.67 535.09,330.17 535.14,336.00 C535.19,341.83 534.97,347.17 534.84,353.00 C534.70,358.83 534.57,365.00 534.34,371.00 C534.10,377.00 533.82,383.00 533.44,389.00 C533.05,395.00 532.54,401.17 532.04,407.00 C531.54,412.83 531.04,418.17 530.44,424.00 C529.84,429.83 529.07,436.33 528.44,442.00 C527.80,447.67 527.29,452.33 526.64,458.00 C525.99,463.67 525.24,470.17 524.54,476.00 C523.84,481.83 523.09,487.17 522.44,493.00 C521.79,498.83 521.17,505.00 520.64,511.00 C520.10,517.00 519.62,523.00 519.24,529.00 C518.85,535.00 518.64,541.17 518.34,547.00 C518.04,552.83 517.67,558.17 517.44,564.00 C517.20,569.83 517.09,576.67 516.94,582.00 C516.79,587.33 516.77,590.67 516.54,596.00 C516.30,601.33 515.87,594.67 515.54,614.00 C515.20,633.33 514.70,695.67 514.54,712.00" fill="none" stroke="#c8caca" stroke-width="3.20" stroke-linejoin="round" stroke-linecap="round"/>
<path d="M571.77,30.00 C571.76,54.67 571.94,144.50 571.67,178.00 C571.41,211.50 570.62,219.17 570.17,231.00 C569.72,242.83 569.47,243.00 568.97,249.00 C568.47,255.00 567.77,261.17 567.17,267.00 C566.57,272.83 566.02,278.17 565.37,284.00 C564.72,289.83 563.96,296.33 563.27,302.00 C562.59,307.67 562.11,312.33 561.27,318.00 C560.44,323.67 559.21,330.17 558.27,336.00 C557.34,341.83 556.56,347.17 555.67,353.00 C554.79,358.83 553.72,365.00 552.97,371.00 C552.22,377.00 551.67,383.00 551.17,389.00 C550.67,395.00 550.26,401.17 549.97,407.00 C549.69,412.83 549.51,418.17 549.47,424.00 C549.44,429.83 549.51,436.33 549.77,442.00 C550.04,447.67 550.39,452.33 551.07,458.00 C551.76,463.67 552.96,470.17 553.87,476.00 C554.79,481.83 555.69,487.17 556.57,493.00 C557.46,498.83 558.24,505.00 559.17,511.00 C560.11,517.00 561.27,523.00 562.17,529.00 C563.07,535.00 563.89,541.17 564.57,547.00 C565.26,552.83 565.77,558.17 566.27,564.00 C566.77,569.83 567.36,576.67 567.57,582.00 C567.79,587.33 567.27,587.67 567.57,596.00 C567.87,604.33 568.91,612.67 569.37,632.00 C569.84,651.33 570.21,698.67 570.37,712.00 L572.07,712.00 L572.07,30.00 Z" fill="#bbbbf2"/>
<path d="M571.77,30.00 C571.76,54.67 571.94,144.50 571.67,178.00 C571.41,211.50 570.62,219.17 570.17,231.00 C569.72,242.83 569.47,243.00 568.97,249.00 C568.47,255.00 567.77,261.17 567.17,267.00 C566.57,272.83 566.02,278.17 565.37,284.00 C564.72,289.83 563.96,296.33 563.27,302.00 C562.59,307.67 562.11,312.33 561.27,318.00 C560.44,323.67 559.21,330.17 558.27,336.00 C557.34,341.83 556.56,347.17 555.67,353.00 C554.79,358.83 553.72,365.00 552.97,371.00 C552.22,377.00 551.67,383.00 551.17,389.00 C550.67,395.00 550.26,401.17 549.97,407.00 C549.69,412.83 549.51,418.17 549.47,424.00 C549.44,429.83 549.51,436.33 549.77,442.00 C550.04,447.67 550.39,452.33 551.07,458.00 C551.76,463.67 552.96,470.17 553.87,476.00 C554.79,481.83 555.69,487.17 556.57,493.00 C557.46,498.83 558.24,505.00 559.17,511.00 C560.11,517.00 561.27,523.00 562.17,529.00 C563.07,535.00 563.89,541.17 564.57,547.00 C565.26,552.83 565.77,558.17 566.27,564.00 C566.77,569.83 567.36,576.67 567.57,582.00 C567.79,587.33 567.27,587.67 567.57,596.00 C567.87,604.33 568.91,612.67 569.37,632.00 C569.84,651.33 570.21,698.67 570.37,712.00" fill="none" stroke="#c8caca" stroke-width="3.20" stroke-linejoin="round" stroke-linecap="round"/>
<path d="M572.57,30.00 C572.76,40.67 573.09,77.67 573.67,94.00 C574.26,110.33 575.09,114.00 576.07,128.00 C577.06,142.00 578.69,166.67 579.57,178.00 C580.46,189.33 580.77,190.17 581.37,196.00 C581.97,201.83 582.57,207.17 583.17,213.00 C583.77,218.83 584.32,225.00 584.97,231.00 C585.62,237.00 586.34,243.00 587.07,249.00 C587.81,255.00 588.69,261.17 589.37,267.00 C590.06,272.83 590.64,278.17 591.17,284.00 C591.71,289.83 592.16,296.33 592.57,302.00 C592.99,307.67 593.41,312.33 593.67,318.00 C593.94,323.67 594.09,330.17 594.17,336.00 C594.26,341.83 594.29,347.17 594.17,353.00 C594.06,358.83 593.77,365.00 593.47,371.00 C593.17,377.00 592.84,383.00 592.37,389.00 C591.91,395.00 591.26,401.17 590.67,407.00 C590.09,412.83 589.47,418.17 588.87,424.00 C588.27,429.83 587.77,436.33 587.07,442.00 C586.37,447.67 585.47,452.33 584.67,458.00 C583.87,463.67 582.97,470.17 582.27,476.00 C581.57,481.83 580.97,487.17 580.47,493.00 C579.97,498.83 579.71,505.00 579.27,511.00 C578.84,517.00 578.26,523.00 577.87,529.00 C577.49,535.00 577.27,541.17 576.97,547.00 C576.67,552.83 576.31,558.17 576.07,564.00 C575.84,569.83 575.72,576.67 575.57,582.00 C575.42,587.33 575.34,590.67 575.17,596.00 C575.01,601.33 574.84,594.67 574.57,614.00 C574.31,633.33 573.74,695.67 573.57,712.00 L572.07,712.00 L572.07,30.00 Z" fill="#f2bbbb"/>
<path d="M572.57,30.00 C572.76,40.67 573.09,77.67 573.67,94.00 C574.26,110.33 575.09,114.00 576.07,128.00 C577.06,142.00 578.69,166.67 579.57,178.00 C580.46,189.33 580.77,190.17 581.37,196.00 C581.97,201.83 582.57,207.17 583.17,213.00 C583.77,218.83 584.32,225.00 584.97,231.00 C585.62,237.00 586.34,243.00 587.07,249.00 C587.81,255.00 588.69,261.17 589.37,267.00 C590.06,272.83 590.64,278.17 591.17,284.00 C591.71,289.83 592.16,296.33 592.57,302.00 C592.99,307.67 593.41,312.33 593.67,318.00 C593.94,323.67 594.09,330.17 594.17,336.00 C594.26,341.83 594.29,347.17 594.17,353.00 C594.06,358.83 593.77,365.00 593.47,371.00 C593.17,377.00 592.84,383.00 592.37,389.00 C591.91,395.00 591.26,401.17 590.67,407.00 C590.09,412.83 589.47,418.17 588.87,424.00 C588.27,429.83 587.77,436.33 587.07,442.00 C586.37,447.67 585.47,452.33 584.67,458.00 C583.87,463.67 582.97,470.17 582.27,476.00 C581.57,481.83 580.97,487.17 580.47,493.00 C579.97,498.83 579.71,505.00 579.27,511.00 C578.84,517.00 578.26,523.00 577.87,529.00 C577.49,535.00 577.27,541.17 576.97,547.00 C576.67,552.83 576.31,558.17 576.07,564.00 C575.84,569.83 575.72,576.67 575.57,582.00 C575.42,587.33 575.34,590.67 575.17,596.00 C575.01,601.33 574.84,594.67 574.57,614.00 C574.31,633.33 573.74,695.67 573.57,712.00" fill="none" stroke="#c8caca" stroke-width="3.20" stroke-linejoin="round" stroke-linecap="round"/>
<path d="M630.81,30.00 C630.66,50.00 630.14,125.33 629.91,150.00 C629.68,174.67 629.56,170.33 629.41,178.00 C629.26,185.67 629.16,190.17 629.01,196.00 C628.86,201.83 628.81,207.17 628.51,213.00 C628.21,218.83 627.66,225.00 627.21,231.00 C626.76,237.00 626.34,243.00 625.81,249.00 C625.28,255.00 624.59,261.17 624.01,267.00 C623.43,272.83 622.96,278.17 622.31,284.00 C621.66,289.83 620.94,296.33 620.11,302.00 C619.28,307.67 618.28,312.33 617.31,318.00 C616.34,323.67 615.18,330.17 614.31,336.00 C613.44,341.83 612.79,347.17 612.11,353.00 C611.43,358.83 610.74,365.00 610.21,371.00 C609.68,377.00 609.18,383.00 608.91,389.00 C608.64,395.00 608.53,401.17 608.61,407.00 C608.69,412.83 608.98,418.17 609.41,424.00 C609.84,429.83 610.58,436.33 611.21,442.00 C611.84,447.67 612.41,452.33 613.21,458.00 C614.01,463.67 615.09,470.17 616.01,476.00 C616.93,481.83 617.83,487.17 618.71,493.00 C619.59,498.83 620.48,505.00 621.31,511.00 C622.14,517.00 623.03,523.00 623.71,529.00 C624.39,535.00 624.91,541.17 625.41,547.00 C625.91,552.83 626.29,558.17 626.71,564.00 C627.13,569.83 627.71,576.67 627.91,582.00 C628.11,587.33 627.84,590.67 627.91,596.00 C627.98,601.33 628.11,594.67 628.31,614.00 C628.51,633.33 628.98,695.67 629.11,712.00 L631.11,712.00 L631.11,30.00 Z" fill="#bbbbf2"/>
<path d="M630.81,30.00 C630.66,50.00 630.14,125.33 629.91,150.00 C629.68,174.67 629.56,170.33 629.41,178.00 C629.26,185.67 629.16,190.17 629.01,196.00 C628.86,201.83 628.81,207.17 628.51,213.00 C628.21,218.83 627.66,225.00 627.21,231.00 C626.76,237.00 626.34,243.00 625.81,249.00 C625.28,255.00 624.59,261.17 624.01,267.00 C623.43,272.83 622.96,278.17 622.31,284.00 C621.66,289.83 620.94,296.33 620.11,302.00 C619.28,307.67 618.28,312.33 617.31,318.00 C616.34,323.67 615.18,330.17 614.31,336.00 C613.44,341.83 612.79,347.17 612.11,353.00 C611.43,358.83 610.74,365.00 610.21,371.00 C609.68,377.00 609.18,383.00 608.91,389.00 C608.64,395.00 608.53,401.17 608.61,407.00 C608.69,412.83 608.98,418.17 609.41,424.00 C609.84,429.83 610.58,436.33 611.21,442.00 C611.84,447.67 612.41,452.33 613.21,458.00 C614.01,463.67 615.09,470.17 616.01,476.00 C616.93,481.83 617.83,487.17 618.71,493.00 C619.59,498.83 620.48,505.00 621.31,511.00 C622.14,517.00 623.03,523.00 623.71,529.00 C624.39,535.00 624.91,541.17 625.41,547.00 C625.91,552.83 626.29,558.17 626.71,564.00 C627.13,569.83 627.71,576.67 627.91,582.00 C628.11,587.33 627.84,590.67 627.91,596.00 C627.98,601.33 628.11,594.67 628.31,614.00 C628.51,633.33 628.98,695.67 629.11,712.00" fill="none" stroke="#c8caca" stroke-width="3.20" stroke-linejoin="round" stroke-linecap="round"/>
<path d="M632.61,30.00 C632.78,35.00 633.04,49.33 633.61,60.00 C634.18,70.67 635.21,82.67 636.01,94.00 C636.81,105.33 637.59,114.00 638.41,128.00 C639.23,142.00 640.19,166.67 640.91,178.00 C641.63,189.33 642.03,190.17 642.71,196.00 C643.39,201.83 644.28,207.17 645.01,213.00 C645.74,218.83 646.46,225.00 647.11,231.00 C647.76,237.00 648.31,243.00 648.91,249.00 C649.51,255.00 650.18,261.17 650.71,267.00 C651.24,272.83 651.76,278.17 652.11,284.00 C652.46,289.83 652.61,296.33 652.81,302.00 C653.01,307.67 653.23,312.33 653.31,318.00 C653.39,323.67 653.39,330.17 653.31,336.00 C653.23,341.83 653.11,347.17 652.81,353.00 C652.51,358.83 652.01,365.00 651.51,371.00 C651.01,377.00 650.39,383.00 649.81,389.00 C649.23,395.00 648.69,401.17 648.01,407.00 C647.33,412.83 646.46,418.17 645.71,424.00 C644.96,429.83 644.23,436.33 643.51,442.00 C642.79,447.67 642.14,452.33 641.41,458.00 C640.68,463.67 639.73,470.17 639.11,476.00 C638.49,481.83 638.16,487.17 637.71,493.00 C637.26,498.83 636.76,505.00 636.41,511.00 C636.06,517.00 635.89,523.00 635.61,529.00 C635.33,535.00 634.93,541.17 634.71,547.00 C634.49,552.83 634.46,558.17 634.31,564.00 C634.16,569.83 633.96,576.67 633.81,582.00 C633.66,587.33 633.53,574.33 633.41,596.00 C633.29,617.67 633.16,692.67 633.11,712.00 L631.11,712.00 L631.11,30.00 Z" fill="#f2bbbb"/>
<path d="M632.61,30.00 C632.78,35.00 633.04,49.33 633.61,60.00 C634.18,70.67 635.21,82.67 636.01,94.00 C636.81,105.33 637.59,114.00 638.41,128.00 C639.23,142.00 640.19,166.67 640.91,178.00 C641.63,189.33 642.03,190.17 642.71,196.00 C643.39,201.83 644.28,207.17 645.01,213.00 C645.74,218.83 646.46,225.00 647.11,231.00 C647.76,237.00 648.31,243.00 648.91,249.00 C649.51,255.00 650.18,261.17 650.71,267.00 C651.24,272.83 651.76,278.17 652.11,284.00 C652.46,289.83 652.61,296.33 652.81,302.00 C653.01,307.67 653.23,312.33 653.31,318.00 C653.39,323.67 653.39,330.17 653.31,336.00 C653.23,341.83 653.11,347.17 652.81,353.00 C652.51,358.83 652.01,365.00 651.51,371.00 C651.01,377.00 650.39,383.00 649.81,389.00 C649.23,395.00 648.69,401.17 648.01,407.00 C647.33,412.83 646.46,418.17 645.71,424.00 C644.96,429.83 644.23,436.33 643.51,442.00 C642.79,447.67 642.14,452.33 641.41,458.00 C640.68,463.67 639.73,470.17 639.11,476.00 C638.49,481.83 638.16,487.17 637.71,493.00 C637.26,498.83 636.76,505.00 636.41,511.00 C636.06,517.00 635.89,523.00 635.61,529.00 C635.33,535.00 634.93,541.17 634.71,547.00 C634.49,552.83 634.46,558.17 634.31,564.00 C634.16,569.83 633.96,576.67 633.81,582.00 C633.66,587.33 633.53,574.33 633.41,596.00 C633.29,617.67 633.16,692.67 633.11,712.00" fill="none" stroke="#c8caca" stroke-width="3.20" stroke-linejoin="round" stroke-linecap="round"/>
<path d="M690.15,30.00 C690.15,31.33 690.36,30.83 690.15,38.00 C689.93,45.17 689.15,61.17 688.85,73.00 C688.55,84.83 688.58,97.00 688.35,109.00 C688.11,121.00 687.75,133.83 687.45,145.00 C687.15,156.17 686.85,167.50 686.55,176.00 C686.25,184.50 685.95,186.83 685.65,196.00 C685.35,205.17 685.13,222.17 684.75,231.00 C684.36,239.83 683.85,243.00 683.35,249.00 C682.85,255.00 682.40,261.17 681.75,267.00 C681.10,272.83 680.28,278.17 679.45,284.00 C678.61,289.83 677.56,296.33 676.75,302.00 C675.93,307.67 675.43,312.33 674.55,318.00 C673.66,323.67 672.25,330.17 671.45,336.00 C670.65,341.83 670.25,347.17 669.75,353.00 C669.25,358.83 668.75,365.00 668.45,371.00 C668.15,377.00 667.95,383.00 667.95,389.00 C667.95,395.00 668.15,401.17 668.45,407.00 C668.75,412.83 669.25,418.17 669.75,424.00 C670.25,429.83 670.76,436.33 671.45,442.00 C672.13,447.67 672.96,452.33 673.85,458.00 C674.73,463.67 675.81,470.17 676.75,476.00 C677.68,481.83 678.65,487.17 679.45,493.00 C680.25,498.83 680.90,505.00 681.55,511.00 C682.20,517.00 682.81,523.00 683.35,529.00 C683.88,535.00 684.28,541.17 684.75,547.00 C685.21,552.83 685.78,558.17 686.15,564.00 C686.51,569.83 686.73,576.67 686.95,582.00 C687.16,587.33 687.16,588.00 687.45,596.00 C687.73,604.00 688.33,610.67 688.65,630.00 C688.96,649.33 689.23,698.33 689.35,712.00 L690.15,712.00 L690.15,30.00 Z" fill="#bbbbf2"/>
<path d="M690.15,30.00 C690.15,31.33 690.36,30.83 690.15,38.00 C689.93,45.17 689.15,61.17 688.85,73.00 C688.55,84.83 688.58,97.00 688.35,109.00 C688.11,121.00 687.75,133.83 687.45,145.00 C687.15,156.17 686.85,167.50 686.55,176.00 C686.25,184.50 685.95,186.83 685.65,196.00 C685.35,205.17 685.13,222.17 684.75,231.00 C684.36,239.83 683.85,243.00 683.35,249.00 C682.85,255.00 682.40,261.17 681.75,267.00 C681.10,272.83 680.28,278.17 679.45,284.00 C678.61,289.83 677.56,296.33 676.75,302.00 C675.93,307.67 675.43,312.33 674.55,318.00 C673.66,323.67 672.25,330.17 671.45,336.00 C670.65,341.83 670.25,347.17 669.75,353.00 C669.25,358.83 668.75,365.00 668.45,371.00 C668.15,377.00 667.95,383.00 667.95,389.00 C667.95,395.00 668.15,401.17 668.45,407.00 C668.75,412.83 669.25,418.17 669.75,424.00 C670.25,429.83 670.76,436.33 671.45,442.00 C672.13,447.67 672.96,452.33 673.85,458.00 C674.73,463.67 675.81,470.17 676.75,476.00 C677.68,481.83 678.65,487.17 679.45,493.00 C680.25,498.83 680.90,505.00 681.55,511.00 C682.20,517.00 682.81,523.00 683.35,529.00 C683.88,535.00 684.28,541.17 684.75,547.00 C685.21,552.83 685.78,558.17 686.15,564.00 C686.51,569.83 686.73,576.67 686.95,582.00 C687.16,587.33 687.16,588.00 687.45,596.00 C687.73,604.00 688.33,610.67 688.65,630.00 C688.96,649.33 689.23,698.33 689.35,712.00" fill="none" stroke="#c8caca" stroke-width="3.20" stroke-linejoin="round" stroke-linecap="round"/>
<path d="M691.35,30.00 C691.43,31.33 691.23,30.83 691.85,38.00 C692.46,45.17 694.16,61.17 695.05,73.00 C695.93,84.83 696.43,97.00 697.15,109.00 C697.86,121.00 698.70,133.83 699.35,145.00 C700.00,156.17 700.43,167.50 701.05,176.00 C701.66,184.50 702.21,186.83 703.05,196.00 C703.88,205.17 705.30,222.17 706.05,231.00 C706.80,239.83 707.01,243.00 707.55,249.00 C708.08,255.00 708.76,261.17 709.25,267.00 C709.73,272.83 710.10,278.17 710.45,284.00 C710.80,289.83 711.13,296.33 711.35,302.00 C711.56,307.67 711.75,312.33 711.75,318.00 C711.75,323.67 711.65,330.17 711.35,336.00 C711.05,341.83 710.53,347.17 709.95,353.00 C709.36,358.83 708.50,365.00 707.85,371.00 C707.20,377.00 706.63,383.00 706.05,389.00 C705.46,395.00 704.98,401.17 704.35,407.00 C703.71,412.83 702.90,418.17 702.25,424.00 C701.60,429.83 701.00,436.33 700.45,442.00 C699.90,447.67 699.50,452.33 698.95,458.00 C698.40,463.67 697.65,470.17 697.15,476.00 C696.65,481.83 696.30,487.17 695.95,493.00 C695.60,498.83 695.35,505.00 695.05,511.00 C694.75,517.00 694.38,523.00 694.15,529.00 C693.91,535.00 693.80,541.17 693.65,547.00 C693.50,552.83 693.36,558.17 693.25,564.00 C693.13,569.83 693.03,576.67 692.95,582.00 C692.86,587.33 692.96,584.67 692.75,596.00 C692.53,607.33 691.91,630.67 691.65,650.00 C691.38,669.33 691.23,701.67 691.15,712.00 L690.15,712.00 L690.15,30.00 Z" fill="#f2bbbb"/>
<path d="M691.35,30.00 C691.43,31.33 691.23,30.83 691.85,38.00 C692.46,45.17 694.16,61.17 695.05,73.00 C695.93,84.83 696.43,97.00 697.15,109.00 C697.86,121.00 698.70,133.83 699.35,145.00 C700.00,156.17 700.43,167.50 701.05,176.00 C701.66,184.50 702.21,186.83 703.05,196.00 C703.88,205.17 705.30,222.17 706.05,231.00 C706.80,239.83 707.01,243.00 707.55,249.00 C708.08,255.00 708.76,261.17 709.25,267.00 C709.73,272.83 710.10,278.17 710.45,284.00 C710.80,289.83 711.13,296.33 711.35,302.00 C711.56,307.67 711.75,312.33 711.75,318.00 C711.75,323.67 711.65,330.17 711.35,336.00 C711.05,341.83 710.53,347.17 709.95,353.00 C709.36,358.83 708.50,365.00 707.85,371.00 C707.20,377.00 706.63,383.00 706.05,389.00 C705.46,395.00 704.98,401.17 704.35,407.00 C703.71,412.83 702.90,418.17 702.25,424.00 C701.60,429.83 701.00,436.33 700.45,442.00 C699.90,447.67 699.50,452.33 698.95,458.00 C698.40,463.67 697.65,470.17 697.15,476.00 C696.65,481.83 696.30,487.17 695.95,493.00 C695.60,498.83 695.35,505.00 695.05,511.00 C694.75,517.00 694.38,523.00 694.15,529.00 C693.91,535.00 693.80,541.17 693.65,547.00 C693.50,552.83 693.36,558.17 693.25,564.00 C693.13,569.83 693.03,576.67 692.95,582.00 C692.86,587.33 692.96,584.67 692.75,596.00 C692.53,607.33 691.91,630.67 691.65,650.00 C691.38,669.33 691.23,701.67 691.15,712.00" fill="none" stroke="#c8caca" stroke-width="3.20" stroke-linejoin="round" stroke-linecap="round"/>
<path d="M748.68,30.00 C748.68,31.33 748.78,30.83 748.68,38.00 C748.58,45.17 748.33,61.17 748.08,73.00 C747.83,84.83 747.53,97.00 747.18,109.00 C746.83,121.00 746.37,133.83 745.98,145.00 C745.60,156.17 745.12,167.50 744.88,176.00 C744.65,184.50 744.90,186.83 744.58,196.00 C744.27,205.17 743.55,222.17 742.98,231.00 C742.42,239.83 741.78,243.00 741.18,249.00 C740.58,255.00 740.07,261.17 739.38,267.00 C738.70,272.83 737.90,278.17 737.08,284.00 C736.27,289.83 735.37,296.33 734.48,302.00 C733.60,307.67 732.67,312.33 731.78,318.00 C730.90,323.67 729.87,330.17 729.18,336.00 C728.50,341.83 728.05,347.17 727.68,353.00 C727.32,358.83 727.03,365.00 726.98,371.00 C726.93,377.00 727.08,383.00 727.38,389.00 C727.68,395.00 728.20,401.17 728.78,407.00 C729.37,412.83 730.08,418.17 730.88,424.00 C731.68,429.83 732.70,436.33 733.58,442.00 C734.47,447.67 735.30,452.33 736.18,458.00 C737.07,463.67 738.05,470.17 738.88,476.00 C739.72,481.83 740.50,487.17 741.18,493.00 C741.87,498.83 742.42,505.00 742.98,511.00 C743.55,517.00 744.13,523.00 744.58,529.00 C745.03,535.00 745.38,541.17 745.68,547.00 C745.98,552.83 746.18,558.17 746.38,564.00 C746.58,569.83 746.75,576.67 746.88,582.00 C747.02,587.33 747.03,584.67 747.18,596.00 C747.33,607.33 747.65,630.67 747.78,650.00 C747.92,669.33 747.95,701.67 747.98,712.00 L749.18,712.00 L749.18,30.00 Z" fill="#bbbbf2"/>
<path d="M748.68,30.00 C748.68,31.33 748.78,30.83 748.68,38.00 C748.58,45.17 748.33,61.17 748.08,73.00 C747.83,84.83 747.53,97.00 747.18,109.00 C746.83,121.00 746.37,133.83 745.98,145.00 C745.60,156.17 745.12,167.50 744.88,176.00 C744.65,184.50 744.90,186.83 744.58,196.00 C744.27,205.17 743.55,222.17 742.98,231.00 C742.42,239.83 741.78,243.00 741.18,249.00 C740.58,255.00 740.07,261.17 739.38,267.00 C738.70,272.83 737.90,278.17 737.08,284.00 C736.27,289.83 735.37,296.33 734.48,302.00 C733.60,307.67 732.67,312.33 731.78,318.00 C730.90,323.67 729.87,330.17 729.18,336.00 C728.50,341.83 728.05,347.17 727.68,353.00 C727.32,358.83 727.03,365.00 726.98,371.00 C726.93,377.00 727.08,383.00 727.38,389.00 C727.68,395.00 728.20,401.17 728.78,407.00 C729.37,412.83 730.08,418.17 730.88,424.00 C731.68,429.83 732.70,436.33 733.58,442.00 C734.47,447.67 735.30,452.33 736.18,458.00 C737.07,463.67 738.05,470.17 738.88,476.00 C739.72,481.83 740.50,487.17 741.18,493.00 C741.87,498.83 742.42,505.00 742.98,511.00 C743.55,517.00 744.13,523.00 744.58,529.00 C745.03,535.00 745.38,541.17 745.68,547.00 C745.98,552.83 746.18,558.17 746.38,564.00 C746.58,569.83 746.75,576.67 746.88,582.00 C747.02,587.33 747.03,584.67 747.18,596.00 C747.33,607.33 747.65,630.67 747.78,650.00 C747.92,669.33 747.95,701.67 747.98,712.00" fill="none" stroke="#c8caca" stroke-width="3.20" stroke-linejoin="round" stroke-linecap="round"/>
<path d="M750.78,30.00 C750.87,31.33 750.75,30.83 751.28,38.00 C751.82,45.17 753.13,61.17 753.98,73.00 C754.83,84.83 755.80,101.17 756.38,109.00 C756.97,116.83 756.62,111.50 757.48,120.00 C758.35,128.50 760.23,146.50 761.58,160.00 C762.93,173.50 764.40,187.33 765.58,201.00 C766.77,214.67 767.83,229.17 768.68,242.00 C769.53,254.83 770.22,268.00 770.68,278.00 C771.15,288.00 771.48,295.33 771.48,302.00 C771.48,308.67 771.08,312.33 770.68,318.00 C770.28,323.67 769.65,330.17 769.08,336.00 C768.52,341.83 767.80,347.17 767.28,353.00 C766.77,358.83 766.43,365.00 765.98,371.00 C765.53,377.00 765.17,383.00 764.58,389.00 C764.00,395.00 763.22,401.17 762.48,407.00 C761.75,412.83 760.95,418.17 760.18,424.00 C759.42,429.83 758.58,436.33 757.88,442.00 C757.18,447.67 756.55,452.33 755.98,458.00 C755.42,463.67 754.88,470.17 754.48,476.00 C754.08,481.83 753.88,487.17 753.58,493.00 C753.28,498.83 752.92,505.00 752.68,511.00 C752.45,517.00 752.32,523.00 752.18,529.00 C752.05,535.00 752.00,541.17 751.88,547.00 C751.77,552.83 751.58,558.17 751.48,564.00 C751.38,569.83 751.33,576.67 751.28,582.00 C751.23,587.33 751.27,584.67 751.18,596.00 C751.10,607.33 750.87,630.67 750.78,650.00 C750.70,669.33 750.70,701.67 750.68,712.00 L749.18,712.00 L749.18,30.00 Z" fill="#f2bbbb"/>
<path d="M750.78,30.00 C750.87,31.33 750.75,30.83 751.28,38.00 C751.82,45.17 753.13,61.17 753.98,73.00 C754.83,84.83 755.80,101.17 756.38,109.00 C756.97,116.83 756.62,111.50 757.48,120.00 C758.35,128.50 760.23,146.50 761.58,160.00 C762.93,173.50 764.40,187.33 765.58,201.00 C766.77,214.67 767.83,229.17 768.68,242.00 C769.53,254.83 770.22,268.00 770.68,278.00 C771.15,288.00 771.48,295.33 771.48,302.00 C771.48,308.67 771.08,312.33 770.68,318.00 C770.28,323.67 769.65,330.17 769.08,336.00 C768.52,341.83 767.80,347.17 767.28,353.00 C766.77,358.83 766.43,365.00 765.98,371.00 C765.53,377.00 765.17,383.00 764.58,389.00 C764.00,395.00 763.22,401.17 762.48,407.00 C761.75,412.83 760.95,418.17 760.18,424.00 C759.42,429.83 758.58,436.33 757.88,442.00 C757.18,447.67 756.55,452.33 755.98,458.00 C755.42,463.67 754.88,470.17 754.48,476.00 C754.08,481.83 753.88,487.17 753.58,493.00 C753.28,498.83 752.92,505.00 752.68,511.00 C752.45,517.00 752.32,523.00 752.18,529.00 C752.05,535.00 752.00,541.17 751.88,547.00 C751.77,552.83 751.58,558.17 751.48,564.00 C751.38,569.83 751.33,576.67 751.28,582.00 C751.23,587.33 751.27,584.67 751.18,596.00 C751.10,607.33 750.87,630.67 750.78,650.00 C750.70,669.33 750.70,701.67 750.68,712.00" fill="none" stroke="#c8caca" stroke-width="3.20" stroke-linejoin="round" stroke-linecap="round"/>
<line x1="129.30" y1="38.40" x2="778.70" y2="38.40" stroke="#b0b0b0" stroke-width="2.40"/>
<line x1="129.30" y1="203.90" x2="778.70" y2="203.90" stroke="#b0b0b0" stroke-width="2.40"/>
<line x1="129.30" y1="369.40" x2="778.70" y2="369.40" stroke="#b0b0b0" stroke-width="2.40"/>
<line x1="129.30" y1="534.90" x2="778.70" y2="534.90" stroke="#b0b0b0" stroke-width="2.40"/>
<line x1="129.30" y1="700.40" x2="778.70" y2="700.40" stroke="#b0b0b0" stroke-width="2.40"/>
<line x1="158.82" y1="38.40" x2="158.82" y2="700.40" stroke="#b0b0b0" stroke-width="2.40"/>
<line x1="217.85" y1="38.40" x2="217.85" y2="700.40" stroke="#b0b0b0" stroke-width="2.40"/>
<line x1="276.89" y1="38.40" x2="276.89" y2="700.40" stroke="#b0b0b0" stroke-width="2.40"/>
<line x1="335.93" y1="38.40" x2="335.93" y2="700.40" stroke="#b0b0b0" stroke-width="2.40"/>
<line x1="394.96" y1="38.40" x2="394.96" y2="700.40" stroke="#b0b0b0" stroke-width="2.40"/>
<line x1="454.00" y1="38.40" x2="454.00" y2="700.40" stroke="#b0b0b0" stroke-width="2.40"/>
<line x1="513.04" y1="38.40" x2="513.04" y2="700.40" stroke="#b0b0b0" stroke-width="2.40"/>
<line x1="572.07" y1="38.40" x2="572.07" y2="700.40" stroke="#b0b0b0" stroke-width="2.40"/>
<line x1="631.11" y1="38.40" x2="631.11" y2="700.40" stroke="#b0b0b0" stroke-width="2.40"/>
<line x1="690.15" y1="38.40" x2="690.15" y2="700.40" stroke="#b0b0b0" stroke-width="2.40"/>
<line x1="749.18" y1="38.40" x2="749.18" y2="700.40" stroke="#b0b0b0" stroke-width="2.40"/>
<line x1="158.82" y1="30.00" x2="158.82" y2="712.00" stroke="#b0b0b0" stroke-width="4.00"/>
<line x1="217.85" y1="30.00" x2="217.85" y2="712.00" stroke="#b0b0b0" stroke-width="4.00"/>
<line x1="276.89" y1="30.00" x2="276.89" y2="712.00" stroke="#b0b0b0" stroke-width="4.00"/>
<line x1="335.93" y1="30.00" x2="335.93" y2="712.00" stroke="#b0b0b0" stroke-width="4.00"/>
<line x1="394.96" y1="30.00" x2="394.96" y2="712.00" stroke="#b0b0b0" stroke-width="4.00"/>
<line x1="454.00" y1="30.00" x2="454.00" y2="712.00" stroke="#b0b0b0" stroke-width="4.00"/>
<line x1="513.04" y1="30.00" x2="513.04" y2="712.00" stroke="#b0b0b0" stroke-width="4.00"/>
<line x1="572.07" y1="30.00" x2="572.07" y2="712.00" stroke="#b0b0b0" stroke-width="4.00"/>
<line x1="631.11" y1="30.00" x2="631.11" y2="712.00" stroke="#b0b0b0" stroke-width="4.00"/>
<line x1="690.15" y1="30.00" x2="690.15" y2="712.00" stroke="#b0b0b0" stroke-width="4.00"/>
<line x1="749.18" y1="30.00" x2="749.18" y2="712.00" stroke="#b0b0b0" stroke-width="4.00"/>
</g>
<path d="M172.45,498.90 L145.19,485.27 L145.19,512.53 Z" fill="#ff0000" stroke="#000" stroke-width="2.64" stroke-linejoin="round"/>
<path d="M145.19,554.70 L172.45,541.07 L172.45,568.33 Z" fill="#0000ff" stroke="#000" stroke-width="2.64" stroke-linejoin="round"/>
<path d="M231.48,379.90 L204.22,366.27 L204.22,393.53 Z" fill="#ff0000" stroke="#000" stroke-width="2.64" stroke-linejoin="round"/>
<path d="M204.22,478.90 L231.48,465.27 L231.48,492.53 Z" fill="#0000ff" stroke="#000" stroke-width="2.64" stroke-linejoin="round"/>
<path d="M290.52,363.90 L263.26,350.27 L263.26,377.53 Z" fill="#ff0000" stroke="#000" stroke-width="2.64" stroke-linejoin="round"/>
<path d="M263.26,464.70 L290.52,451.07 L290.52,478.33 Z" fill="#0000ff" stroke="#000" stroke-width="2.64" stroke-linejoin="round"/>
<path d="M349.56,330.30 L322.30,316.67 L322.30,343.93 Z" fill="#ff0000" stroke="#000" stroke-width="2.64" stroke-linejoin="round"/>
<path d="M322.30,432.90 L349.56,419.27 L349.56,446.53 Z" fill="#0000ff" stroke="#000" stroke-width="2.64" stroke-linejoin="round"/>
<path d="M408.59,307.10 L381.33,293.47 L381.33,320.73 Z" fill="#ff0000" stroke="#000" stroke-width="2.64" stroke-linejoin="round"/>
<path d="M381.33,401.80 L408.59,388.17 L408.59,415.43 Z" fill="#0000ff" stroke="#000" stroke-width="2.64" stroke-linejoin="round"/>
<path d="M467.63,290.90 L440.37,277.27 L440.37,304.53 Z" fill="#ff0000" stroke="#000" stroke-width="2.64" stroke-linejoin="round"/>
<path d="M440.37,380.90 L467.63,367.27 L467.63,394.53 Z" fill="#0000ff" stroke="#000" stroke-width="2.64" stroke-linejoin="round"/>
<path d="M526.67,271.20 L499.41,257.57 L499.41,284.83 Z" fill="#ff0000" stroke="#000" stroke-width="2.64" stroke-linejoin="round"/>
<path d="M499.41,363.10 L526.67,349.47 L526.67,376.73 Z" fill="#0000ff" stroke="#000" stroke-width="2.64" stroke-linejoin="round"/>
<path d="M585.70,255.00 L558.44,241.37 L558.44,268.63 Z" fill="#ff0000" stroke="#000" stroke-width="2.64" stroke-linejoin="round"/>
<path d="M558.44,346.30 L585.70,332.67 L585.70,359.93 Z" fill="#0000ff" stroke="#000" stroke-width="2.64" stroke-linejoin="round"/>
<path d="M644.74,232.70 L617.48,219.07 L617.48,246.33 Z" fill="#ff0000" stroke="#000" stroke-width="2.64" stroke-linejoin="round"/>
<path d="M617.48,325.30 L644.74,311.67 L644.74,338.93 Z" fill="#0000ff" stroke="#000" stroke-width="2.64" stroke-linejoin="round"/>
<path d="M703.78,219.70 L676.52,206.07 L676.52,233.33 Z" fill="#ff0000" stroke="#000" stroke-width="2.64" stroke-linejoin="round"/>
<path d="M676.52,310.50 L703.78,296.87 L703.78,324.13 Z" fill="#0000ff" stroke="#000" stroke-width="2.64" stroke-linejoin="round"/>
<path d="M762.81,214.60 L735.55,200.97 L735.55,228.23 Z" fill="#ff0000" stroke="#000" stroke-width="2.64" stroke-linejoin="round"/>
<path d="M735.55,301.80 L762.81,288.17 L762.81,315.43 Z" fill="#0000ff" stroke="#000" stroke-width="2.64" stroke-linejoin="round"/>
<rect x="129.30" y="38.40" width="649.40" height="662.00" fill="none" stroke="#000" stroke-width="2.40"/>
<line x1="119.00" y1="38.40" x2="129.30" y2="38.40" stroke="#000" stroke-width="2.40"/>
<line x1="119.00" y1="203.90" x2="129.30" y2="203.90" stroke="#000" stroke-width="2.40"/>
<line x1="119.00" y1="369.40" x2="129.30" y2="369.40" stroke="#000" stroke-width="2.40"/>
<line x1="119.00" y1="534.90" x2="129.30" y2="534.90" stroke="#000" stroke-width="2.40"/>
<line x1="119.00" y1="700.40" x2="129.30" y2="700.40" stroke="#000" stroke-width="2.40"/>
<line x1="123.10" y1="154.08" x2="129.30" y2="154.08" stroke="#000" stroke-width="1.9"/>
<line x1="123.10" y1="124.94" x2="129.30" y2="124.94" stroke="#000" stroke-width="1.9"/>
<line x1="123.10" y1="104.26" x2="129.30" y2="104.26" stroke="#000" stroke-width="1.9"/>
<line x1="123.10" y1="88.22" x2="129.30" y2="88.22" stroke="#000" stroke-width="1.9"/>
<line x1="123.10" y1="75.12" x2="129.30" y2="75.12" stroke="#000" stroke-width="1.9"/>
<line x1="123.10" y1="64.04" x2="129.30" y2="64.04" stroke="#000" stroke-width="1.9"/>
<line x1="123.10" y1="54.44" x2="129.30" y2="54.44" stroke="#000" stroke-width="1.9"/>
<line x1="123.10" y1="45.97" x2="129.30" y2="45.97" stroke="#000" stroke-width="1.9"/>
<line x1="123.10" y1="319.58" x2="129.30" y2="319.58" stroke="#000" stroke-width="1.9"/>
<line x1="123.10" y1="290.44" x2="129.30" y2="290.44" stroke="#000" stroke-width="1.9"/>
<line x1="123.10" y1="269.76" x2="129.30" y2="269.76" stroke="#000" stroke-width="1.9"/>
<line x1="123.10" y1="253.72" x2="129.30" y2="253.72" stroke="#000" stroke-width="1.9"/>
<line x1="123.10" y1="240.62" x2="129.30" y2="240.62" stroke="#000" stroke-width="1.9"/>
<line x1="123.10" y1="229.54" x2="129.30" y2="229.54" stroke="#000" stroke-width="1.9"/>
<line x1="123.10" y1="219.94" x2="129.30" y2="219.94" stroke="#000" stroke-width="1.9"/>
<line x1="123.10" y1="211.47" x2="129.30" y2="211.47" stroke="#000" stroke-width="1.9"/>
<line x1="123.10" y1="485.08" x2="129.30" y2="485.08" stroke="#000" stroke-width="1.9"/>
<line x1="123.10" y1="455.94" x2="129.30" y2="455.94" stroke="#000" stroke-width="1.9"/>
<line x1="123.10" y1="435.26" x2="129.30" y2="435.26" stroke="#000" stroke-width="1.9"/>
<line x1="123.10" y1="419.22" x2="129.30" y2="419.22" stroke="#000" stroke-width="1.9"/>
<line x1="123.10" y1="406.12" x2="129.30" y2="406.12" stroke="#000" stroke-width="1.9"/>
<line x1="123.10" y1="395.04" x2="129.30" y2="395.04" stroke="#000" stroke-width="1.9"/>
<line x1="123.10" y1="385.44" x2="129.30" y2="385.44" stroke="#000" stroke-width="1.9"/>
<line x1="123.10" y1="376.97" x2="129.30" y2="376.97" stroke="#000" stroke-width="1.9"/>
<line x1="123.10" y1="650.58" x2="129.30" y2="650.58" stroke="#000" stroke-width="1.9"/>
<line x1="123.10" y1="621.44" x2="129.30" y2="621.44" stroke="#000" stroke-width="1.9"/>
<line x1="123.10" y1="600.76" x2="129.30" y2="600.76" stroke="#000" stroke-width="1.9"/>
<line x1="123.10" y1="584.72" x2="129.30" y2="584.72" stroke="#000" stroke-width="1.9"/>
<line x1="123.10" y1="571.62" x2="129.30" y2="571.62" stroke="#000" stroke-width="1.9"/>
<line x1="123.10" y1="560.54" x2="129.30" y2="560.54" stroke="#000" stroke-width="1.9"/>
<line x1="123.10" y1="550.94" x2="129.30" y2="550.94" stroke="#000" stroke-width="1.9"/>
<line x1="123.10" y1="542.47" x2="129.30" y2="542.47" stroke="#000" stroke-width="1.9"/>
<line x1="158.82" y1="700.40" x2="158.82" y2="710.70" stroke="#000" stroke-width="2.40"/>
<line x1="217.85" y1="700.40" x2="217.85" y2="710.70" stroke="#000" stroke-width="2.40"/>
<line x1="276.89" y1="700.40" x2="276.89" y2="710.70" stroke="#000" stroke-width="2.40"/>
<line x1="335.93" y1="700.40" x2="335.93" y2="710.70" stroke="#000" stroke-width="2.40"/>
<line x1="394.96" y1="700.40" x2="394.96" y2="710.70" stroke="#000" stroke-width="2.40"/>
<line x1="454.00" y1="700.40" x2="454.00" y2="710.70" stroke="#000" stroke-width="2.40"/>
<line x1="513.04" y1="700.40" x2="513.04" y2="710.70" stroke="#000" stroke-width="2.40"/>
<line x1="572.07" y1="700.40" x2="572.07" y2="710.70" stroke="#000" stroke-width="2.40"/>
<line x1="631.11" y1="700.40" x2="631.11" y2="710.70" stroke="#000" stroke-width="2.40"/>
<line x1="690.15" y1="700.40" x2="690.15" y2="710.70" stroke="#000" stroke-width="2.40"/>
<line x1="749.18" y1="700.40" x2="749.18" y2="710.70" stroke="#000" stroke-width="2.40"/>
<g clip-path="url(#cb)">
<path d="M834.63,30.00 C834.60,50.00 834.63,125.33 834.43,150.00 C834.23,174.67 833.68,164.50 833.43,178.00 C833.18,191.50 833.17,219.17 832.93,231.00 C832.70,242.83 832.30,243.00 832.03,249.00 C831.77,255.00 831.60,261.17 831.33,267.00 C831.07,272.83 830.67,278.17 830.43,284.00 C830.20,289.83 830.22,296.33 829.93,302.00 C829.65,307.67 829.10,312.33 828.73,318.00 C828.37,323.67 828.03,330.17 827.73,336.00 C827.43,341.83 827.22,347.17 826.93,353.00 C826.65,358.83 826.43,365.00 826.03,371.00 C825.63,377.00 825.07,383.00 824.53,389.00 C824.00,395.00 823.42,401.17 822.83,407.00 C822.25,412.83 821.63,418.17 821.03,424.00 C820.43,429.83 819.92,436.33 819.23,442.00 C818.55,447.67 817.67,452.33 816.93,458.00 C816.20,463.67 815.40,470.17 814.83,476.00 C814.27,481.83 813.83,487.17 813.53,493.00 C813.23,498.83 813.03,505.00 813.03,511.00 C813.03,517.00 813.15,523.00 813.53,529.00 C813.92,535.00 814.62,541.17 815.33,547.00 C816.05,552.83 816.88,558.17 817.83,564.00 C818.78,569.83 820.23,577.67 821.03,582.00 C821.83,586.33 821.93,586.33 822.63,590.00 C823.33,593.67 824.43,599.33 825.23,604.00 C826.03,608.67 826.73,613.17 827.43,618.00 C828.13,622.83 828.78,628.17 829.43,633.00 C830.08,637.83 830.83,642.33 831.33,647.00 C831.83,651.67 832.13,656.33 832.43,661.00 C832.73,665.67 832.97,670.33 833.13,675.00 C833.30,679.67 833.33,682.83 833.43,689.00 C833.53,695.17 833.68,708.17 833.73,712.00 L834.93,712.00 L834.93,30.00 Z" fill="#bbbbf2"/>
<path d="M834.63,30.00 C834.60,50.00 834.63,125.33 834.43,150.00 C834.23,174.67 833.68,164.50 833.43,178.00 C833.18,191.50 833.17,219.17 832.93,231.00 C832.70,242.83 832.30,243.00 832.03,249.00 C831.77,255.00 831.60,261.17 831.33,267.00 C831.07,272.83 830.67,278.17 830.43,284.00 C830.20,289.83 830.22,296.33 829.93,302.00 C829.65,307.67 829.10,312.33 828.73,318.00 C828.37,323.67 828.03,330.17 827.73,336.00 C827.43,341.83 827.22,347.17 826.93,353.00 C826.65,358.83 826.43,365.00 826.03,371.00 C825.63,377.00 825.07,383.00 824.53,389.00 C824.00,395.00 823.42,401.17 822.83,407.00 C822.25,412.83 821.63,418.17 821.03,424.00 C820.43,429.83 819.92,436.33 819.23,442.00 C818.55,447.67 817.67,452.33 816.93,458.00 C816.20,463.67 815.40,470.17 814.83,476.00 C814.27,481.83 813.83,487.17 813.53,493.00 C813.23,498.83 813.03,505.00 813.03,511.00 C813.03,517.00 813.15,523.00 813.53,529.00 C813.92,535.00 814.62,541.17 815.33,547.00 C816.05,552.83 816.88,558.17 817.83,564.00 C818.78,569.83 820.23,577.67 821.03,582.00 C821.83,586.33 821.93,586.33 822.63,590.00 C823.33,593.67 824.43,599.33 825.23,604.00 C826.03,608.67 826.73,613.17 827.43,618.00 C828.13,622.83 828.78,628.17 829.43,633.00 C830.08,637.83 830.83,642.33 831.33,647.00 C831.83,651.67 832.13,656.33 832.43,661.00 C832.73,665.67 832.97,670.33 833.13,675.00 C833.30,679.67 833.33,682.83 833.43,689.00 C833.53,695.17 833.68,708.17 833.73,712.00" fill="none" stroke="#c8caca" stroke-width="3.20" stroke-linejoin="round" stroke-linecap="round"/>
<path d="M834.93,35.00 C835.40,35.50 837.07,37.00 837.73,38.00 C838.40,39.00 838.52,39.33 838.93,41.00 C839.35,42.67 839.97,45.50 840.23,48.00 C840.50,50.50 840.33,51.83 840.53,56.00 C840.73,60.17 841.13,67.17 841.43,73.00 C841.73,78.83 842.03,85.00 842.33,91.00 C842.63,97.00 842.88,103.00 843.23,109.00 C843.58,115.00 844.05,121.00 844.43,127.00 C844.82,133.00 845.20,139.17 845.53,145.00 C845.87,150.83 846.10,156.50 846.43,162.00 C846.77,167.50 847.18,172.33 847.53,178.00 C847.88,183.67 848.15,190.17 848.53,196.00 C848.92,201.83 849.38,207.17 849.83,213.00 C850.28,218.83 850.77,225.00 851.23,231.00 C851.70,237.00 852.12,243.00 852.63,249.00 C853.15,255.00 853.83,261.17 854.33,267.00 C854.83,272.83 855.22,278.17 855.63,284.00 C856.05,289.83 856.57,296.33 856.83,302.00 C857.10,307.67 857.23,312.33 857.23,318.00 C857.23,323.67 857.02,330.17 856.83,336.00 C856.65,341.83 856.40,347.17 856.13,353.00 C855.87,358.83 855.62,365.00 855.23,371.00 C854.85,377.00 854.35,383.00 853.83,389.00 C853.32,395.00 852.72,401.17 852.13,407.00 C851.55,412.83 850.93,418.17 850.33,424.00 C849.73,429.83 849.13,436.33 848.53,442.00 C847.93,447.67 847.47,452.33 846.73,458.00 C846.00,463.67 844.93,470.17 844.13,476.00 C843.33,481.83 842.68,487.17 841.93,493.00 C841.18,498.83 840.32,505.00 839.63,511.00 C838.95,517.00 838.37,523.00 837.83,529.00 C837.30,535.00 836.82,541.83 836.43,547.00 C836.05,552.17 835.78,556.17 835.53,560.00 C835.28,563.83 835.03,568.33 834.93,570.00 L834.93,570.00 L834.93,35.00 Z" fill="#f2bbbb"/>
<path d="M834.93,35.00 C835.40,35.50 837.07,37.00 837.73,38.00 C838.40,39.00 838.52,39.33 838.93,41.00 C839.35,42.67 839.97,45.50 840.23,48.00 C840.50,50.50 840.33,51.83 840.53,56.00 C840.73,60.17 841.13,67.17 841.43,73.00 C841.73,78.83 842.03,85.00 842.33,91.00 C842.63,97.00 842.88,103.00 843.23,109.00 C843.58,115.00 844.05,121.00 844.43,127.00 C844.82,133.00 845.20,139.17 845.53,145.00 C845.87,150.83 846.10,156.50 846.43,162.00 C846.77,167.50 847.18,172.33 847.53,178.00 C847.88,183.67 848.15,190.17 848.53,196.00 C848.92,201.83 849.38,207.17 849.83,213.00 C850.28,218.83 850.77,225.00 851.23,231.00 C851.70,237.00 852.12,243.00 852.63,249.00 C853.15,255.00 853.83,261.17 854.33,267.00 C854.83,272.83 855.22,278.17 855.63,284.00 C856.05,289.83 856.57,296.33 856.83,302.00 C857.10,307.67 857.23,312.33 857.23,318.00 C857.23,323.67 857.02,330.17 856.83,336.00 C856.65,341.83 856.40,347.17 856.13,353.00 C855.87,358.83 855.62,365.00 855.23,371.00 C854.85,377.00 854.35,383.00 853.83,389.00 C853.32,395.00 852.72,401.17 852.13,407.00 C851.55,412.83 850.93,418.17 850.33,424.00 C849.73,429.83 849.13,436.33 848.53,442.00 C847.93,447.67 847.47,452.33 846.73,458.00 C846.00,463.67 844.93,470.17 844.13,476.00 C843.33,481.83 842.68,487.17 841.93,493.00 C841.18,498.83 840.32,505.00 839.63,511.00 C838.95,517.00 838.37,523.00 837.83,529.00 C837.30,535.00 836.82,541.83 836.43,547.00 C836.05,552.17 835.78,556.17 835.53,560.00 C835.28,563.83 835.03,568.33 834.93,570.00" fill="none" stroke="#c8caca" stroke-width="3.20" stroke-linejoin="round" stroke-linecap="round"/>
<path d="M893.70,30.00 C893.55,58.33 893.08,166.50 892.80,200.00 C892.52,233.50 892.33,222.83 892.00,231.00 C891.67,239.17 891.18,243.00 890.80,249.00 C890.42,255.00 890.03,261.17 889.70,267.00 C889.37,272.83 889.07,278.17 888.80,284.00 C888.53,289.83 888.35,296.33 888.10,302.00 C887.85,307.67 887.60,312.33 887.30,318.00 C887.00,323.67 886.70,330.17 886.30,336.00 C885.90,341.83 885.43,347.17 884.90,353.00 C884.37,358.83 883.75,365.00 883.10,371.00 C882.45,377.00 881.73,383.00 881.00,389.00 C880.27,395.00 879.47,401.17 878.70,407.00 C877.93,412.83 877.15,418.17 876.40,424.00 C875.65,429.83 874.88,436.33 874.20,442.00 C873.52,447.67 872.58,452.33 872.30,458.00 C872.02,463.67 872.03,470.17 872.50,476.00 C872.97,481.83 874.07,487.17 875.10,493.00 C876.13,498.83 877.37,505.00 878.70,511.00 C880.03,517.00 881.70,523.00 883.10,529.00 C884.50,535.00 885.97,541.17 887.10,547.00 C888.23,552.83 889.15,558.17 889.90,564.00 C890.65,569.83 891.18,576.67 891.60,582.00 C892.02,587.33 892.13,589.67 892.40,596.00 C892.67,602.33 892.93,612.17 893.20,620.00 C893.47,627.83 893.87,639.17 894.00,643.00 L894.00,643.00 L894.00,30.00 Z" fill="#bbbbf2"/>
<path d="M893.70,30.00 C893.55,58.33 893.08,166.50 892.80,200.00 C892.52,233.50 892.33,222.83 892.00,231.00 C891.67,239.17 891.18,243.00 890.80,249.00 C890.42,255.00 890.03,261.17 889.70,267.00 C889.37,272.83 889.07,278.17 888.80,284.00 C888.53,289.83 888.35,296.33 888.10,302.00 C887.85,307.67 887.60,312.33 887.30,318.00 C887.00,323.67 886.70,330.17 886.30,336.00 C885.90,341.83 885.43,347.17 884.90,353.00 C884.37,358.83 883.75,365.00 883.10,371.00 C882.45,377.00 881.73,383.00 881.00,389.00 C880.27,395.00 879.47,401.17 878.70,407.00 C877.93,412.83 877.15,418.17 876.40,424.00 C875.65,429.83 874.88,436.33 874.20,442.00 C873.52,447.67 872.58,452.33 872.30,458.00 C872.02,463.67 872.03,470.17 872.50,476.00 C872.97,481.83 874.07,487.17 875.10,493.00 C876.13,498.83 877.37,505.00 878.70,511.00 C880.03,517.00 881.70,523.00 883.10,529.00 C884.50,535.00 885.97,541.17 887.10,547.00 C888.23,552.83 889.15,558.17 889.90,564.00 C890.65,569.83 891.18,576.67 891.60,582.00 C892.02,587.33 892.13,589.67 892.40,596.00 C892.67,602.33 892.93,612.17 893.20,620.00 C893.47,627.83 893.87,639.17 894.00,643.00" fill="none" stroke="#c8caca" stroke-width="3.20" stroke-linejoin="round" stroke-linecap="round"/>
<path d="M894.00,35.00 C894.70,35.50 897.05,36.67 898.20,38.00 C899.35,39.33 900.22,40.00 900.90,43.00 C901.58,46.00 902.02,51.00 902.30,56.00 C902.58,61.00 902.45,67.17 902.60,73.00 C902.75,78.83 902.97,85.00 903.20,91.00 C903.43,97.00 903.72,103.00 904.00,109.00 C904.28,115.00 904.53,121.00 904.90,127.00 C905.27,133.00 905.75,139.17 906.20,145.00 C906.65,150.83 907.15,156.50 907.60,162.00 C908.05,167.50 908.40,172.33 908.90,178.00 C909.40,183.67 909.93,190.17 910.60,196.00 C911.27,201.83 912.15,207.17 912.90,213.00 C913.65,218.83 914.60,225.00 915.10,231.00 C915.60,237.00 915.77,243.00 915.90,249.00 C916.03,255.00 915.98,261.17 915.90,267.00 C915.82,272.83 915.60,278.17 915.40,284.00 C915.20,289.83 914.90,296.33 914.70,302.00 C914.50,307.67 914.43,312.33 914.20,318.00 C913.97,323.67 913.75,330.17 913.30,336.00 C912.85,341.83 912.25,347.17 911.50,353.00 C910.75,358.83 909.75,365.00 908.80,371.00 C907.85,377.00 906.68,383.00 905.80,389.00 C904.92,395.00 904.23,401.17 903.50,407.00 C902.77,412.83 902.07,418.17 901.40,424.00 C900.73,429.83 900.15,436.33 899.50,442.00 C898.85,447.67 898.12,452.33 897.50,458.00 C896.88,463.67 896.27,470.17 895.80,476.00 C895.33,481.83 895.00,489.00 894.70,493.00 C894.40,497.00 894.12,498.83 894.00,500.00 L894.00,500.00 L894.00,35.00 Z" fill="#f2bbbb"/>
<path d="M894.00,35.00 C894.70,35.50 897.05,36.67 898.20,38.00 C899.35,39.33 900.22,40.00 900.90,43.00 C901.58,46.00 902.02,51.00 902.30,56.00 C902.58,61.00 902.45,67.17 902.60,73.00 C902.75,78.83 902.97,85.00 903.20,91.00 C903.43,97.00 903.72,103.00 904.00,109.00 C904.28,115.00 904.53,121.00 904.90,127.00 C905.27,133.00 905.75,139.17 906.20,145.00 C906.65,150.83 907.15,156.50 907.60,162.00 C908.05,167.50 908.40,172.33 908.90,178.00 C909.40,183.67 909.93,190.17 910.60,196.00 C911.27,201.83 912.15,207.17 912.90,213.00 C913.65,218.83 914.60,225.00 915.10,231.00 C915.60,237.00 915.77,243.00 915.90,249.00 C916.03,255.00 915.98,261.17 915.90,267.00 C915.82,272.83 915.60,278.17 915.40,284.00 C915.20,289.83 914.90,296.33 914.70,302.00 C914.50,307.67 914.43,312.33 914.20,318.00 C913.97,323.67 913.75,330.17 913.30,336.00 C912.85,341.83 912.25,347.17 911.50,353.00 C910.75,358.83 909.75,365.00 908.80,371.00 C907.85,377.00 906.68,383.00 905.80,389.00 C904.92,395.00 904.23,401.17 903.50,407.00 C902.77,412.83 902.07,418.17 901.40,424.00 C900.73,429.83 900.15,436.33 899.50,442.00 C898.85,447.67 898.12,452.33 897.50,458.00 C896.88,463.67 896.27,470.17 895.80,476.00 C895.33,481.83 895.00,489.00 894.70,493.00 C894.40,497.00 894.12,498.83 894.00,500.00" fill="none" stroke="#c8caca" stroke-width="3.20" stroke-linejoin="round" stroke-linecap="round"/>
<path d="M952.77,30.00 C952.65,50.00 952.35,125.33 952.07,150.00 C951.78,174.67 951.45,164.50 951.07,178.00 C950.68,191.50 950.13,219.17 949.77,231.00 C949.40,242.83 949.17,243.00 948.87,249.00 C948.57,255.00 948.32,261.17 947.97,267.00 C947.62,272.83 947.20,278.17 946.77,284.00 C946.33,289.83 945.95,296.33 945.37,302.00 C944.78,307.67 944.02,312.33 943.27,318.00 C942.52,323.67 941.65,330.17 940.87,336.00 C940.08,341.83 939.30,347.17 938.57,353.00 C937.83,358.83 937.20,365.00 936.47,371.00 C935.73,377.00 934.92,383.00 934.17,389.00 C933.42,395.00 932.42,401.17 931.97,407.00 C931.52,412.83 931.37,418.17 931.47,424.00 C931.57,429.83 932.07,436.33 932.57,442.00 C933.07,447.67 933.38,452.33 934.47,458.00 C935.55,463.67 937.42,470.17 939.07,476.00 C940.72,481.83 942.80,487.17 944.37,493.00 C945.93,498.83 947.42,505.00 948.47,511.00 C949.52,517.00 950.13,523.00 950.67,529.00 C951.20,535.00 951.40,541.00 951.67,547.00 C951.93,553.00 952.03,556.00 952.27,565.00 C952.50,574.00 952.93,595.00 953.07,601.00 L953.07,601.00 L953.07,30.00 Z" fill="#bbbbf2"/>
<path d="M952.77,30.00 C952.65,50.00 952.35,125.33 952.07,150.00 C951.78,174.67 951.45,164.50 951.07,178.00 C950.68,191.50 950.13,219.17 949.77,231.00 C949.40,242.83 949.17,243.00 948.87,249.00 C948.57,255.00 948.32,261.17 947.97,267.00 C947.62,272.83 947.20,278.17 946.77,284.00 C946.33,289.83 945.95,296.33 945.37,302.00 C944.78,307.67 944.02,312.33 943.27,318.00 C942.52,323.67 941.65,330.17 940.87,336.00 C940.08,341.83 939.30,347.17 938.57,353.00 C937.83,358.83 937.20,365.00 936.47,371.00 C935.73,377.00 934.92,383.00 934.17,389.00 C933.42,395.00 932.42,401.17 931.97,407.00 C931.52,412.83 931.37,418.17 931.47,424.00 C931.57,429.83 932.07,436.33 932.57,442.00 C933.07,447.67 933.38,452.33 934.47,458.00 C935.55,463.67 937.42,470.17 939.07,476.00 C940.72,481.83 942.80,487.17 944.37,493.00 C945.93,498.83 947.42,505.00 948.47,511.00 C949.52,517.00 950.13,523.00 950.67,529.00 C951.20,535.00 951.40,541.00 951.67,547.00 C951.93,553.00 952.03,556.00 952.27,565.00 C952.50,574.00 952.93,595.00 953.07,601.00" fill="none" stroke="#c8caca" stroke-width="3.20" stroke-linejoin="round" stroke-linecap="round"/>
<path d="M953.07,35.00 C953.70,35.50 955.80,36.67 956.87,38.00 C957.93,39.33 958.58,40.00 959.47,43.00 C960.35,46.00 961.57,51.00 962.17,56.00 C962.77,61.00 962.77,67.17 963.07,73.00 C963.37,78.83 963.58,85.00 963.97,91.00 C964.35,97.00 964.87,103.00 965.37,109.00 C965.87,115.00 966.40,121.00 966.97,127.00 C967.53,133.00 968.15,139.17 968.77,145.00 C969.38,150.83 970.08,156.50 970.67,162.00 C971.25,167.50 971.70,172.33 972.27,178.00 C972.83,183.67 973.58,190.17 974.07,196.00 C974.55,201.83 974.93,207.17 975.17,213.00 C975.40,218.83 975.47,225.00 975.47,231.00 C975.47,237.00 975.40,243.00 975.17,249.00 C974.93,255.00 974.45,261.17 974.07,267.00 C973.68,272.83 973.43,278.17 972.87,284.00 C972.30,289.83 971.63,296.33 970.67,302.00 C969.70,307.67 968.10,312.33 967.07,318.00 C966.03,323.67 965.28,330.17 964.47,336.00 C963.65,341.83 963.05,347.17 962.17,353.00 C961.28,358.83 959.95,365.00 959.17,371.00 C958.38,377.00 957.95,383.00 957.47,389.00 C956.98,395.00 956.58,401.17 956.27,407.00 C955.95,412.83 955.75,418.17 955.57,424.00 C955.38,429.83 955.28,436.33 955.17,442.00 C955.05,447.67 955.05,451.67 954.87,458.00 C954.68,464.33 954.37,471.33 954.07,480.00 C953.77,488.67 953.23,505.00 953.07,510.00 L953.07,510.00 L953.07,35.00 Z" fill="#f2bbbb"/>
<path d="M953.07,35.00 C953.70,35.50 955.80,36.67 956.87,38.00 C957.93,39.33 958.58,40.00 959.47,43.00 C960.35,46.00 961.57,51.00 962.17,56.00 C962.77,61.00 962.77,67.17 963.07,73.00 C963.37,78.83 963.58,85.00 963.97,91.00 C964.35,97.00 964.87,103.00 965.37,109.00 C965.87,115.00 966.40,121.00 966.97,127.00 C967.53,133.00 968.15,139.17 968.77,145.00 C969.38,150.83 970.08,156.50 970.67,162.00 C971.25,167.50 971.70,172.33 972.27,178.00 C972.83,183.67 973.58,190.17 974.07,196.00 C974.55,201.83 974.93,207.17 975.17,213.00 C975.40,218.83 975.47,225.00 975.47,231.00 C975.47,237.00 975.40,243.00 975.17,249.00 C974.93,255.00 974.45,261.17 974.07,267.00 C973.68,272.83 973.43,278.17 972.87,284.00 C972.30,289.83 971.63,296.33 970.67,302.00 C969.70,307.67 968.10,312.33 967.07,318.00 C966.03,323.67 965.28,330.17 964.47,336.00 C963.65,341.83 963.05,347.17 962.17,353.00 C961.28,358.83 959.95,365.00 959.17,371.00 C958.38,377.00 957.95,383.00 957.47,389.00 C956.98,395.00 956.58,401.17 956.27,407.00 C955.95,412.83 955.75,418.17 955.57,424.00 C955.38,429.83 955.28,436.33 955.17,442.00 C955.05,447.67 955.05,451.67 954.87,458.00 C954.68,464.33 954.37,471.33 954.07,480.00 C953.77,488.67 953.23,505.00 953.07,510.00" fill="none" stroke="#c8caca" stroke-width="3.20" stroke-linejoin="round" stroke-linecap="round"/>
<path d="M1011.83,30.00 C1011.80,50.00 1011.87,125.67 1011.63,150.00 C1011.40,174.33 1010.98,168.33 1010.43,176.00 C1009.88,183.67 1008.93,189.83 1008.33,196.00 C1007.73,202.17 1007.28,207.17 1006.83,213.00 C1006.38,218.83 1006.07,225.00 1005.63,231.00 C1005.20,237.00 1004.77,243.00 1004.23,249.00 C1003.70,255.00 1003.15,261.17 1002.43,267.00 C1001.72,272.83 1000.67,278.17 999.93,284.00 C999.20,289.83 998.68,296.33 998.03,302.00 C997.38,307.67 996.78,312.33 996.03,318.00 C995.28,323.67 994.23,330.17 993.53,336.00 C992.83,341.83 992.42,347.17 991.83,353.00 C991.25,358.83 990.33,365.00 990.03,371.00 C989.73,377.00 989.73,383.00 990.03,389.00 C990.33,395.00 990.95,401.17 991.83,407.00 C992.72,412.83 994.02,418.17 995.33,424.00 C996.65,429.83 998.18,436.33 999.73,442.00 C1001.28,447.67 1003.30,452.33 1004.63,458.00 C1005.97,463.67 1006.92,470.17 1007.73,476.00 C1008.55,481.83 1009.08,487.17 1009.53,493.00 C1009.98,498.83 1010.20,505.00 1010.43,511.00 C1010.67,517.00 1010.78,520.00 1010.93,529.00 C1011.08,538.00 1011.13,555.00 1011.33,565.00 C1011.53,575.00 1012.00,585.00 1012.13,589.00 L1012.13,589.00 L1012.13,30.00 Z" fill="#bbbbf2"/>
<path d="M1011.83,30.00 C1011.80,50.00 1011.87,125.67 1011.63,150.00 C1011.40,174.33 1010.98,168.33 1010.43,176.00 C1009.88,183.67 1008.93,189.83 1008.33,196.00 C1007.73,202.17 1007.28,207.17 1006.83,213.00 C1006.38,218.83 1006.07,225.00 1005.63,231.00 C1005.20,237.00 1004.77,243.00 1004.23,249.00 C1003.70,255.00 1003.15,261.17 1002.43,267.00 C1001.72,272.83 1000.67,278.17 999.93,284.00 C999.20,289.83 998.68,296.33 998.03,302.00 C997.38,307.67 996.78,312.33 996.03,318.00 C995.28,323.67 994.23,330.17 993.53,336.00 C992.83,341.83 992.42,347.17 991.83,353.00 C991.25,358.83 990.33,365.00 990.03,371.00 C989.73,377.00 989.73,383.00 990.03,389.00 C990.33,395.00 990.95,401.17 991.83,407.00 C992.72,412.83 994.02,418.17 995.33,424.00 C996.65,429.83 998.18,436.33 999.73,442.00 C1001.28,447.67 1003.30,452.33 1004.63,458.00 C1005.97,463.67 1006.92,470.17 1007.73,476.00 C1008.55,481.83 1009.08,487.17 1009.53,493.00 C1009.98,498.83 1010.20,505.00 1010.43,511.00 C1010.67,517.00 1010.78,520.00 1010.93,529.00 C1011.08,538.00 1011.13,555.00 1011.33,565.00 C1011.53,575.00 1012.00,585.00 1012.13,589.00" fill="none" stroke="#c8caca" stroke-width="3.20" stroke-linejoin="round" stroke-linecap="round"/>
<path d="M1012.13,35.00 C1013.33,35.50 1017.87,37.00 1019.33,38.00 C1020.80,39.00 1020.40,39.50 1020.93,41.00 C1021.47,42.50 1022.07,44.50 1022.53,47.00 C1023.00,49.50 1023.38,51.67 1023.73,56.00 C1024.08,60.33 1024.25,67.17 1024.63,73.00 C1025.02,78.83 1025.58,85.00 1026.03,91.00 C1026.48,97.00 1026.92,103.00 1027.33,109.00 C1027.75,115.00 1028.10,121.00 1028.53,127.00 C1028.97,133.00 1029.40,139.17 1029.93,145.00 C1030.47,150.83 1031.12,156.50 1031.73,162.00 C1032.35,167.50 1033.37,172.33 1033.63,178.00 C1033.90,183.67 1033.65,190.17 1033.33,196.00 C1033.02,201.83 1032.30,207.17 1031.73,213.00 C1031.17,218.83 1030.50,225.00 1029.93,231.00 C1029.37,237.00 1028.90,243.00 1028.33,249.00 C1027.77,255.00 1027.30,261.17 1026.53,267.00 C1025.77,272.83 1024.63,278.17 1023.73,284.00 C1022.83,289.83 1021.87,296.33 1021.13,302.00 C1020.40,307.67 1019.93,312.33 1019.33,318.00 C1018.73,323.67 1018.13,330.17 1017.53,336.00 C1016.93,341.83 1016.27,347.17 1015.73,353.00 C1015.20,358.83 1014.68,365.00 1014.33,371.00 C1013.98,377.00 1013.87,380.83 1013.63,389.00 C1013.40,397.17 1013.18,410.50 1012.93,420.00 C1012.68,429.50 1012.27,441.67 1012.13,446.00 L1012.13,446.00 L1012.13,35.00 Z" fill="#f2bbbb"/>
<path d="M1012.13,35.00 C1013.33,35.50 1017.87,37.00 1019.33,38.00 C1020.80,39.00 1020.40,39.50 1020.93,41.00 C1021.47,42.50 1022.07,44.50 1022.53,47.00 C1023.00,49.50 1023.38,51.67 1023.73,56.00 C1024.08,60.33 1024.25,67.17 1024.63,73.00 C1025.02,78.83 1025.58,85.00 1026.03,91.00 C1026.48,97.00 1026.92,103.00 1027.33,109.00 C1027.75,115.00 1028.10,121.00 1028.53,127.00 C1028.97,133.00 1029.40,139.17 1029.93,145.00 C1030.47,150.83 1031.12,156.50 1031.73,162.00 C1032.35,167.50 1033.37,172.33 1033.63,178.00 C1033.90,183.67 1033.65,190.17 1033.33,196.00 C1033.02,201.83 1032.30,207.17 1031.73,213.00 C1031.17,218.83 1030.50,225.00 1029.93,231.00 C1029.37,237.00 1028.90,243.00 1028.33,249.00 C1027.77,255.00 1027.30,261.17 1026.53,267.00 C1025.77,272.83 1024.63,278.17 1023.73,284.00 C1022.83,289.83 1021.87,296.33 1021.13,302.00 C1020.40,307.67 1019.93,312.33 1019.33,318.00 C1018.73,323.67 1018.13,330.17 1017.53,336.00 C1016.93,341.83 1016.27,347.17 1015.73,353.00 C1015.20,358.83 1014.68,365.00 1014.33,371.00 C1013.98,377.00 1013.87,380.83 1013.63,389.00 C1013.40,397.17 1013.18,410.50 1012.93,420.00 C1012.68,429.50 1012.27,441.67 1012.13,446.00" fill="none" stroke="#c8caca" stroke-width="3.20" stroke-linejoin="round" stroke-linecap="round"/>
<path d="M1070.90,30.00 C1070.70,48.33 1070.15,117.50 1069.70,140.00 C1069.25,162.50 1068.50,158.67 1068.20,165.00 C1067.90,171.33 1068.15,172.83 1067.90,178.00 C1067.65,183.17 1067.12,190.17 1066.70,196.00 C1066.28,201.83 1065.85,207.17 1065.40,213.00 C1064.95,218.83 1064.52,225.00 1064.00,231.00 C1063.48,237.00 1062.95,243.00 1062.30,249.00 C1061.65,255.00 1060.82,261.17 1060.10,267.00 C1059.38,272.83 1058.73,278.17 1058.00,284.00 C1057.27,289.83 1056.58,296.33 1055.70,302.00 C1054.82,307.67 1053.73,312.33 1052.70,318.00 C1051.67,323.67 1050.18,330.17 1049.50,336.00 C1048.82,341.83 1048.47,347.17 1048.60,353.00 C1048.73,358.83 1049.57,365.00 1050.30,371.00 C1051.03,377.00 1051.95,383.00 1053.00,389.00 C1054.05,395.00 1055.42,401.17 1056.60,407.00 C1057.78,412.83 1058.87,418.17 1060.10,424.00 C1061.33,429.83 1062.77,436.33 1064.00,442.00 C1065.23,447.67 1066.67,452.33 1067.50,458.00 C1068.33,463.67 1068.67,470.17 1069.00,476.00 C1069.33,481.83 1069.35,487.17 1069.50,493.00 C1069.65,498.83 1069.62,506.17 1069.90,511.00 C1070.18,515.83 1070.98,520.17 1071.20,522.00 L1071.20,522.00 L1071.20,30.00 Z" fill="#bbbbf2"/>
<path d="M1070.90,30.00 C1070.70,48.33 1070.15,117.50 1069.70,140.00 C1069.25,162.50 1068.50,158.67 1068.20,165.00 C1067.90,171.33 1068.15,172.83 1067.90,178.00 C1067.65,183.17 1067.12,190.17 1066.70,196.00 C1066.28,201.83 1065.85,207.17 1065.40,213.00 C1064.95,218.83 1064.52,225.00 1064.00,231.00 C1063.48,237.00 1062.95,243.00 1062.30,249.00 C1061.65,255.00 1060.82,261.17 1060.10,267.00 C1059.38,272.83 1058.73,278.17 1058.00,284.00 C1057.27,289.83 1056.58,296.33 1055.70,302.00 C1054.82,307.67 1053.73,312.33 1052.70,318.00 C1051.67,323.67 1050.18,330.17 1049.50,336.00 C1048.82,341.83 1048.47,347.17 1048.60,353.00 C1048.73,358.83 1049.57,365.00 1050.30,371.00 C1051.03,377.00 1051.95,383.00 1053.00,389.00 C1054.05,395.00 1055.42,401.17 1056.60,407.00 C1057.78,412.83 1058.87,418.17 1060.10,424.00 C1061.33,429.83 1062.77,436.33 1064.00,442.00 C1065.23,447.67 1066.67,452.33 1067.50,458.00 C1068.33,463.67 1068.67,470.17 1069.00,476.00 C1069.33,481.83 1069.35,487.17 1069.50,493.00 C1069.65,498.83 1069.62,506.17 1069.90,511.00 C1070.18,515.83 1070.98,520.17 1071.20,522.00" fill="none" stroke="#c8caca" stroke-width="3.20" stroke-linejoin="round" stroke-linecap="round"/>
<path d="M1071.20,35.00 C1072.32,35.50 1076.05,36.67 1077.90,38.00 C1079.75,39.33 1081.08,41.00 1082.30,43.00 C1083.52,45.00 1084.47,47.83 1085.20,50.00 C1085.93,52.17 1086.15,52.17 1086.70,56.00 C1087.25,59.83 1088.05,67.17 1088.50,73.00 C1088.95,78.83 1089.23,85.00 1089.40,91.00 C1089.57,97.00 1089.40,103.00 1089.50,109.00 C1089.60,115.00 1089.78,121.00 1090.00,127.00 C1090.22,133.00 1090.48,139.17 1090.80,145.00 C1091.12,150.83 1091.55,156.50 1091.90,162.00 C1092.25,167.50 1092.87,172.33 1092.90,178.00 C1092.93,183.67 1092.67,190.17 1092.10,196.00 C1091.53,201.83 1090.28,207.17 1089.50,213.00 C1088.72,218.83 1088.07,225.00 1087.40,231.00 C1086.73,237.00 1086.27,243.00 1085.50,249.00 C1084.73,255.00 1083.63,261.17 1082.80,267.00 C1081.97,272.83 1081.32,278.17 1080.50,284.00 C1079.68,289.83 1078.70,296.33 1077.90,302.00 C1077.10,307.67 1076.48,312.33 1075.70,318.00 C1074.92,323.67 1073.78,330.17 1073.20,336.00 C1072.62,341.83 1072.43,345.67 1072.20,353.00 C1071.97,360.33 1071.97,371.00 1071.80,380.00 C1071.63,389.00 1071.30,402.50 1071.20,407.00 L1071.20,407.00 L1071.20,35.00 Z" fill="#f2bbbb"/>
<path d="M1071.20,35.00 C1072.32,35.50 1076.05,36.67 1077.90,38.00 C1079.75,39.33 1081.08,41.00 1082.30,43.00 C1083.52,45.00 1084.47,47.83 1085.20,50.00 C1085.93,52.17 1086.15,52.17 1086.70,56.00 C1087.25,59.83 1088.05,67.17 1088.50,73.00 C1088.95,78.83 1089.23,85.00 1089.40,91.00 C1089.57,97.00 1089.40,103.00 1089.50,109.00 C1089.60,115.00 1089.78,121.00 1090.00,127.00 C1090.22,133.00 1090.48,139.17 1090.80,145.00 C1091.12,150.83 1091.55,156.50 1091.90,162.00 C1092.25,167.50 1092.87,172.33 1092.90,178.00 C1092.93,183.67 1092.67,190.17 1092.10,196.00 C1091.53,201.83 1090.28,207.17 1089.50,213.00 C1088.72,218.83 1088.07,225.00 1087.40,231.00 C1086.73,237.00 1086.27,243.00 1085.50,249.00 C1084.73,255.00 1083.63,261.17 1082.80,267.00 C1081.97,272.83 1081.32,278.17 1080.50,284.00 C1079.68,289.83 1078.70,296.33 1077.90,302.00 C1077.10,307.67 1076.48,312.33 1075.70,318.00 C1074.92,323.67 1073.78,330.17 1073.20,336.00 C1072.62,341.83 1072.43,345.67 1072.20,353.00 C1071.97,360.33 1071.97,371.00 1071.80,380.00 C1071.63,389.00 1071.30,402.50 1071.20,407.00" fill="none" stroke="#c8caca" stroke-width="3.20" stroke-linejoin="round" stroke-linecap="round"/>
<path d="M1129.97,30.00 C1129.85,43.33 1129.53,90.83 1129.27,110.00 C1129.00,129.17 1128.83,134.00 1128.37,145.00 C1127.90,156.00 1127.05,167.50 1126.47,176.00 C1125.88,184.50 1125.43,189.83 1124.87,196.00 C1124.30,202.17 1123.67,207.17 1123.07,213.00 C1122.47,218.83 1121.97,225.00 1121.27,231.00 C1120.57,237.00 1119.60,243.00 1118.87,249.00 C1118.13,255.00 1117.55,261.17 1116.87,267.00 C1116.18,272.83 1115.50,278.17 1114.77,284.00 C1114.03,289.83 1113.27,296.33 1112.47,302.00 C1111.67,307.67 1110.65,312.33 1109.97,318.00 C1109.28,323.67 1108.25,330.17 1108.37,336.00 C1108.48,341.83 1109.70,347.17 1110.67,353.00 C1111.63,358.83 1112.83,365.00 1114.17,371.00 C1115.50,377.00 1117.27,383.00 1118.67,389.00 C1120.07,395.00 1121.45,401.17 1122.57,407.00 C1123.68,412.83 1124.60,418.17 1125.37,424.00 C1126.13,429.83 1126.75,436.33 1127.17,442.00 C1127.58,447.67 1127.67,452.33 1127.87,458.00 C1128.07,463.67 1128.18,467.17 1128.37,476.00 C1128.55,484.83 1128.65,504.00 1128.97,511.00 C1129.28,518.00 1130.05,516.83 1130.27,518.00 L1130.27,518.00 L1130.27,30.00 Z" fill="#bbbbf2"/>
<path d="M1129.97,30.00 C1129.85,43.33 1129.53,90.83 1129.27,110.00 C1129.00,129.17 1128.83,134.00 1128.37,145.00 C1127.90,156.00 1127.05,167.50 1126.47,176.00 C1125.88,184.50 1125.43,189.83 1124.87,196.00 C1124.30,202.17 1123.67,207.17 1123.07,213.00 C1122.47,218.83 1121.97,225.00 1121.27,231.00 C1120.57,237.00 1119.60,243.00 1118.87,249.00 C1118.13,255.00 1117.55,261.17 1116.87,267.00 C1116.18,272.83 1115.50,278.17 1114.77,284.00 C1114.03,289.83 1113.27,296.33 1112.47,302.00 C1111.67,307.67 1110.65,312.33 1109.97,318.00 C1109.28,323.67 1108.25,330.17 1108.37,336.00 C1108.48,341.83 1109.70,347.17 1110.67,353.00 C1111.63,358.83 1112.83,365.00 1114.17,371.00 C1115.50,377.00 1117.27,383.00 1118.67,389.00 C1120.07,395.00 1121.45,401.17 1122.57,407.00 C1123.68,412.83 1124.60,418.17 1125.37,424.00 C1126.13,429.83 1126.75,436.33 1127.17,442.00 C1127.58,447.67 1127.67,452.33 1127.87,458.00 C1128.07,463.67 1128.18,467.17 1128.37,476.00 C1128.55,484.83 1128.65,504.00 1128.97,511.00 C1129.28,518.00 1130.05,516.83 1130.27,518.00" fill="none" stroke="#c8caca" stroke-width="3.20" stroke-linejoin="round" stroke-linecap="round"/>
<path d="M1130.27,35.00 C1131.58,35.50 1135.67,36.67 1138.17,38.00 C1140.67,39.33 1143.50,41.00 1145.27,43.00 C1147.03,45.00 1147.88,47.83 1148.77,50.00 C1149.65,52.17 1149.97,52.17 1150.57,56.00 C1151.17,59.83 1152.07,67.17 1152.37,73.00 C1152.67,78.83 1152.43,85.00 1152.37,91.00 C1152.30,97.00 1152.12,103.00 1151.97,109.00 C1151.82,115.00 1151.70,121.00 1151.47,127.00 C1151.23,133.00 1150.95,139.17 1150.57,145.00 C1150.18,150.83 1149.55,156.50 1149.17,162.00 C1148.78,167.50 1148.58,172.33 1148.27,178.00 C1147.95,183.67 1147.77,190.17 1147.27,196.00 C1146.77,201.83 1146.05,207.17 1145.27,213.00 C1144.48,218.83 1143.45,225.00 1142.57,231.00 C1141.68,237.00 1140.77,243.00 1139.97,249.00 C1139.17,255.00 1138.42,261.17 1137.77,267.00 C1137.12,272.83 1136.65,278.17 1136.07,284.00 C1135.48,289.83 1134.77,296.33 1134.27,302.00 C1133.77,307.67 1133.45,312.33 1133.07,318.00 C1132.68,323.67 1132.27,329.00 1131.97,336.00 C1131.67,343.00 1131.55,349.33 1131.27,360.00 C1130.98,370.67 1130.43,393.33 1130.27,400.00 L1130.27,400.00 L1130.27,35.00 Z" fill="#f2bbbb"/>
<path d="M1130.27,35.00 C1131.58,35.50 1135.67,36.67 1138.17,38.00 C1140.67,39.33 1143.50,41.00 1145.27,43.00 C1147.03,45.00 1147.88,47.83 1148.77,50.00 C1149.65,52.17 1149.97,52.17 1150.57,56.00 C1151.17,59.83 1152.07,67.17 1152.37,73.00 C1152.67,78.83 1152.43,85.00 1152.37,91.00 C1152.30,97.00 1152.12,103.00 1151.97,109.00 C1151.82,115.00 1151.70,121.00 1151.47,127.00 C1151.23,133.00 1150.95,139.17 1150.57,145.00 C1150.18,150.83 1149.55,156.50 1149.17,162.00 C1148.78,167.50 1148.58,172.33 1148.27,178.00 C1147.95,183.67 1147.77,190.17 1147.27,196.00 C1146.77,201.83 1146.05,207.17 1145.27,213.00 C1144.48,218.83 1143.45,225.00 1142.57,231.00 C1141.68,237.00 1140.77,243.00 1139.97,249.00 C1139.17,255.00 1138.42,261.17 1137.77,267.00 C1137.12,272.83 1136.65,278.17 1136.07,284.00 C1135.48,289.83 1134.77,296.33 1134.27,302.00 C1133.77,307.67 1133.45,312.33 1133.07,318.00 C1132.68,323.67 1132.27,329.00 1131.97,336.00 C1131.67,343.00 1131.55,349.33 1131.27,360.00 C1130.98,370.67 1130.43,393.33 1130.27,400.00" fill="none" stroke="#c8caca" stroke-width="3.20" stroke-linejoin="round" stroke-linecap="round"/>
<path d="M1189.03,30.00 C1189.00,45.00 1189.10,100.83 1188.83,120.00 C1188.57,139.17 1188.35,135.67 1187.43,145.00 C1186.52,154.33 1184.52,167.50 1183.33,176.00 C1182.15,184.50 1181.18,189.83 1180.33,196.00 C1179.48,202.17 1178.97,207.17 1178.23,213.00 C1177.50,218.83 1176.72,225.00 1175.93,231.00 C1175.15,237.00 1174.33,243.00 1173.53,249.00 C1172.73,255.00 1171.83,261.17 1171.13,267.00 C1170.43,272.83 1169.93,278.17 1169.33,284.00 C1168.73,289.83 1167.87,296.33 1167.53,302.00 C1167.20,307.67 1166.68,312.33 1167.33,318.00 C1167.98,323.67 1170.15,330.17 1171.43,336.00 C1172.72,341.83 1173.70,347.17 1175.03,353.00 C1176.37,358.83 1178.12,365.00 1179.43,371.00 C1180.75,377.00 1181.90,383.00 1182.93,389.00 C1183.97,395.00 1184.95,401.17 1185.63,407.00 C1186.32,412.83 1186.68,418.17 1187.03,424.00 C1187.38,429.83 1187.52,436.67 1187.73,442.00 C1187.95,447.33 1188.07,450.50 1188.33,456.00 C1188.60,461.50 1189.17,471.83 1189.33,475.00 L1189.33,475.00 L1189.33,30.00 Z" fill="#bbbbf2"/>
<path d="M1189.03,30.00 C1189.00,45.00 1189.10,100.83 1188.83,120.00 C1188.57,139.17 1188.35,135.67 1187.43,145.00 C1186.52,154.33 1184.52,167.50 1183.33,176.00 C1182.15,184.50 1181.18,189.83 1180.33,196.00 C1179.48,202.17 1178.97,207.17 1178.23,213.00 C1177.50,218.83 1176.72,225.00 1175.93,231.00 C1175.15,237.00 1174.33,243.00 1173.53,249.00 C1172.73,255.00 1171.83,261.17 1171.13,267.00 C1170.43,272.83 1169.93,278.17 1169.33,284.00 C1168.73,289.83 1167.87,296.33 1167.53,302.00 C1167.20,307.67 1166.68,312.33 1167.33,318.00 C1167.98,323.67 1170.15,330.17 1171.43,336.00 C1172.72,341.83 1173.70,347.17 1175.03,353.00 C1176.37,358.83 1178.12,365.00 1179.43,371.00 C1180.75,377.00 1181.90,383.00 1182.93,389.00 C1183.97,395.00 1184.95,401.17 1185.63,407.00 C1186.32,412.83 1186.68,418.17 1187.03,424.00 C1187.38,429.83 1187.52,436.67 1187.73,442.00 C1187.95,447.33 1188.07,450.50 1188.33,456.00 C1188.60,461.50 1189.17,471.83 1189.33,475.00" fill="none" stroke="#c8caca" stroke-width="3.20" stroke-linejoin="round" stroke-linecap="round"/>
<path d="M1189.33,38.00 C1190.67,38.17 1195.58,38.67 1197.33,39.00 C1199.08,39.33 1198.67,39.33 1199.83,40.00 C1201.00,40.67 1203.00,41.83 1204.33,43.00 C1205.67,44.17 1206.82,44.83 1207.83,47.00 C1208.85,49.17 1209.85,51.67 1210.43,56.00 C1211.02,60.33 1211.33,67.17 1211.33,73.00 C1211.33,78.83 1210.87,85.00 1210.43,91.00 C1210.00,97.00 1209.17,103.00 1208.73,109.00 C1208.30,115.00 1208.18,121.00 1207.83,127.00 C1207.48,133.00 1207.08,139.17 1206.63,145.00 C1206.18,150.83 1205.63,156.50 1205.13,162.00 C1204.63,167.50 1204.22,172.33 1203.63,178.00 C1203.05,183.67 1202.42,190.17 1201.63,196.00 C1200.85,201.83 1199.82,207.17 1198.93,213.00 C1198.05,218.83 1197.22,225.00 1196.33,231.00 C1195.45,237.00 1194.32,243.00 1193.63,249.00 C1192.95,255.00 1192.58,261.17 1192.23,267.00 C1191.88,272.83 1191.75,278.17 1191.53,284.00 C1191.32,289.83 1191.08,296.33 1190.93,302.00 C1190.78,307.67 1190.90,309.67 1190.63,318.00 C1190.37,326.33 1189.55,346.33 1189.33,352.00 L1189.33,352.00 L1189.33,38.00 Z" fill="#f2bbbb"/>
<path d="M1189.33,38.00 C1190.67,38.17 1195.58,38.67 1197.33,39.00 C1199.08,39.33 1198.67,39.33 1199.83,40.00 C1201.00,40.67 1203.00,41.83 1204.33,43.00 C1205.67,44.17 1206.82,44.83 1207.83,47.00 C1208.85,49.17 1209.85,51.67 1210.43,56.00 C1211.02,60.33 1211.33,67.17 1211.33,73.00 C1211.33,78.83 1210.87,85.00 1210.43,91.00 C1210.00,97.00 1209.17,103.00 1208.73,109.00 C1208.30,115.00 1208.18,121.00 1207.83,127.00 C1207.48,133.00 1207.08,139.17 1206.63,145.00 C1206.18,150.83 1205.63,156.50 1205.13,162.00 C1204.63,167.50 1204.22,172.33 1203.63,178.00 C1203.05,183.67 1202.42,190.17 1201.63,196.00 C1200.85,201.83 1199.82,207.17 1198.93,213.00 C1198.05,218.83 1197.22,225.00 1196.33,231.00 C1195.45,237.00 1194.32,243.00 1193.63,249.00 C1192.95,255.00 1192.58,261.17 1192.23,267.00 C1191.88,272.83 1191.75,278.17 1191.53,284.00 C1191.32,289.83 1191.08,296.33 1190.93,302.00 C1190.78,307.67 1190.90,309.67 1190.63,318.00 C1190.37,326.33 1189.55,346.33 1189.33,352.00" fill="none" stroke="#c8caca" stroke-width="3.20" stroke-linejoin="round" stroke-linecap="round"/>
<path d="M1248.10,30.00 C1248.07,43.33 1248.12,93.83 1247.90,110.00 C1247.68,126.17 1247.57,118.33 1246.80,127.00 C1246.03,135.67 1244.28,153.50 1243.30,162.00 C1242.32,170.50 1241.65,172.33 1240.90,178.00 C1240.15,183.67 1239.43,190.17 1238.80,196.00 C1238.17,201.83 1237.83,207.17 1237.10,213.00 C1236.37,218.83 1235.23,225.00 1234.40,231.00 C1233.57,237.00 1232.90,243.00 1232.10,249.00 C1231.30,255.00 1230.40,261.17 1229.60,267.00 C1228.80,272.83 1227.68,278.17 1227.30,284.00 C1226.92,289.83 1227.05,296.33 1227.30,302.00 C1227.55,307.67 1227.92,312.33 1228.80,318.00 C1229.68,323.67 1231.22,330.17 1232.60,336.00 C1233.98,341.83 1235.62,347.17 1237.10,353.00 C1238.58,358.83 1240.27,365.00 1241.50,371.00 C1242.73,377.00 1243.77,383.00 1244.50,389.00 C1245.23,395.00 1245.52,401.17 1245.90,407.00 C1246.28,412.83 1246.55,415.83 1246.80,424.00 C1247.05,432.17 1247.13,445.50 1247.40,456.00 C1247.67,466.50 1248.23,481.83 1248.40,487.00 L1248.40,487.00 L1248.40,30.00 Z" fill="#bbbbf2"/>
<path d="M1248.10,30.00 C1248.07,43.33 1248.12,93.83 1247.90,110.00 C1247.68,126.17 1247.57,118.33 1246.80,127.00 C1246.03,135.67 1244.28,153.50 1243.30,162.00 C1242.32,170.50 1241.65,172.33 1240.90,178.00 C1240.15,183.67 1239.43,190.17 1238.80,196.00 C1238.17,201.83 1237.83,207.17 1237.10,213.00 C1236.37,218.83 1235.23,225.00 1234.40,231.00 C1233.57,237.00 1232.90,243.00 1232.10,249.00 C1231.30,255.00 1230.40,261.17 1229.60,267.00 C1228.80,272.83 1227.68,278.17 1227.30,284.00 C1226.92,289.83 1227.05,296.33 1227.30,302.00 C1227.55,307.67 1227.92,312.33 1228.80,318.00 C1229.68,323.67 1231.22,330.17 1232.60,336.00 C1233.98,341.83 1235.62,347.17 1237.10,353.00 C1238.58,358.83 1240.27,365.00 1241.50,371.00 C1242.73,377.00 1243.77,383.00 1244.50,389.00 C1245.23,395.00 1245.52,401.17 1245.90,407.00 C1246.28,412.83 1246.55,415.83 1246.80,424.00 C1247.05,432.17 1247.13,445.50 1247.40,456.00 C1247.67,466.50 1248.23,481.83 1248.40,487.00" fill="none" stroke="#c8caca" stroke-width="3.20" stroke-linejoin="round" stroke-linecap="round"/>
<path d="M1248.40,38.00 C1249.73,38.17 1254.45,38.67 1256.40,39.00 C1258.35,39.33 1258.93,39.33 1260.10,40.00 C1261.27,40.67 1262.35,41.83 1263.40,43.00 C1264.45,44.17 1265.32,44.83 1266.40,47.00 C1267.48,49.17 1269.32,51.67 1269.90,56.00 C1270.48,60.33 1270.35,67.17 1269.90,73.00 C1269.45,78.83 1267.95,85.00 1267.20,91.00 C1266.45,97.00 1265.93,103.00 1265.40,109.00 C1264.87,115.00 1264.43,121.00 1264.00,127.00 C1263.57,133.00 1263.30,139.17 1262.80,145.00 C1262.30,150.83 1261.57,156.50 1261.00,162.00 C1260.43,167.50 1259.98,172.33 1259.40,178.00 C1258.82,183.67 1258.12,190.17 1257.50,196.00 C1256.88,201.83 1256.30,207.17 1255.70,213.00 C1255.10,218.83 1254.50,225.00 1253.90,231.00 C1253.30,237.00 1252.53,243.00 1252.10,249.00 C1251.67,255.00 1251.53,261.17 1251.30,267.00 C1251.07,272.83 1250.85,278.17 1250.70,284.00 C1250.55,289.83 1250.52,296.33 1250.40,302.00 C1250.28,307.67 1250.17,310.00 1250.00,318.00 C1249.83,326.00 1249.67,341.67 1249.40,350.00 C1249.13,358.33 1248.57,365.00 1248.40,368.00 L1248.40,368.00 L1248.40,38.00 Z" fill="#f2bbbb"/>
<path d="M1248.40,38.00 C1249.73,38.17 1254.45,38.67 1256.40,39.00 C1258.35,39.33 1258.93,39.33 1260.10,40.00 C1261.27,40.67 1262.35,41.83 1263.40,43.00 C1264.45,44.17 1265.32,44.83 1266.40,47.00 C1267.48,49.17 1269.32,51.67 1269.90,56.00 C1270.48,60.33 1270.35,67.17 1269.90,73.00 C1269.45,78.83 1267.95,85.00 1267.20,91.00 C1266.45,97.00 1265.93,103.00 1265.40,109.00 C1264.87,115.00 1264.43,121.00 1264.00,127.00 C1263.57,133.00 1263.30,139.17 1262.80,145.00 C1262.30,150.83 1261.57,156.50 1261.00,162.00 C1260.43,167.50 1259.98,172.33 1259.40,178.00 C1258.82,183.67 1258.12,190.17 1257.50,196.00 C1256.88,201.83 1256.30,207.17 1255.70,213.00 C1255.10,218.83 1254.50,225.00 1253.90,231.00 C1253.30,237.00 1252.53,243.00 1252.10,249.00 C1251.67,255.00 1251.53,261.17 1251.30,267.00 C1251.07,272.83 1250.85,278.17 1250.70,284.00 C1250.55,289.83 1250.52,296.33 1250.40,302.00 C1250.28,307.67 1250.17,310.00 1250.00,318.00 C1249.83,326.00 1249.67,341.67 1249.40,350.00 C1249.13,358.33 1248.57,365.00 1248.40,368.00" fill="none" stroke="#c8caca" stroke-width="3.20" stroke-linejoin="round" stroke-linecap="round"/>
<path d="M1307.17,30.00 C1307.02,36.67 1306.57,59.83 1306.27,70.00 C1305.97,80.17 1305.82,81.50 1305.37,91.00 C1304.92,100.50 1304.32,115.17 1303.57,127.00 C1302.82,138.83 1301.65,153.50 1300.87,162.00 C1300.08,170.50 1299.75,172.33 1298.87,178.00 C1297.98,183.67 1296.47,190.17 1295.57,196.00 C1294.67,201.83 1294.12,207.17 1293.47,213.00 C1292.82,218.83 1292.35,225.00 1291.67,231.00 C1290.98,237.00 1290.13,243.00 1289.37,249.00 C1288.60,255.00 1287.65,261.17 1287.07,267.00 C1286.48,272.83 1285.78,278.17 1285.87,284.00 C1285.95,289.83 1286.55,296.33 1287.57,302.00 C1288.58,307.67 1290.18,312.33 1291.97,318.00 C1293.75,323.67 1296.53,330.17 1298.27,336.00 C1300.00,341.83 1301.28,347.17 1302.37,353.00 C1303.45,358.83 1304.18,365.00 1304.77,371.00 C1305.35,377.00 1305.62,383.00 1305.87,389.00 C1306.12,395.00 1306.00,398.17 1306.27,407.00 C1306.53,415.83 1307.27,436.17 1307.47,442.00 L1307.47,442.00 L1307.47,30.00 Z" fill="#bbbbf2"/>
<path d="M1307.17,30.00 C1307.02,36.67 1306.57,59.83 1306.27,70.00 C1305.97,80.17 1305.82,81.50 1305.37,91.00 C1304.92,100.50 1304.32,115.17 1303.57,127.00 C1302.82,138.83 1301.65,153.50 1300.87,162.00 C1300.08,170.50 1299.75,172.33 1298.87,178.00 C1297.98,183.67 1296.47,190.17 1295.57,196.00 C1294.67,201.83 1294.12,207.17 1293.47,213.00 C1292.82,218.83 1292.35,225.00 1291.67,231.00 C1290.98,237.00 1290.13,243.00 1289.37,249.00 C1288.60,255.00 1287.65,261.17 1287.07,267.00 C1286.48,272.83 1285.78,278.17 1285.87,284.00 C1285.95,289.83 1286.55,296.33 1287.57,302.00 C1288.58,307.67 1290.18,312.33 1291.97,318.00 C1293.75,323.67 1296.53,330.17 1298.27,336.00 C1300.00,341.83 1301.28,347.17 1302.37,353.00 C1303.45,358.83 1304.18,365.00 1304.77,371.00 C1305.35,377.00 1305.62,383.00 1305.87,389.00 C1306.12,395.00 1306.00,398.17 1306.27,407.00 C1306.53,415.83 1307.27,436.17 1307.47,442.00" fill="none" stroke="#c8caca" stroke-width="3.20" stroke-linejoin="round" stroke-linecap="round"/>
<path d="M1307.47,38.00 C1308.80,38.17 1313.60,38.67 1315.47,39.00 C1317.33,39.33 1317.50,39.33 1318.67,40.00 C1319.83,40.67 1321.13,41.83 1322.47,43.00 C1323.80,44.17 1325.68,44.83 1326.67,47.00 C1327.65,49.17 1328.37,51.67 1328.37,56.00 C1328.37,60.33 1327.55,67.17 1326.67,73.00 C1325.78,78.83 1323.97,85.00 1323.07,91.00 C1322.17,97.00 1321.85,103.00 1321.27,109.00 C1320.68,115.00 1320.15,121.00 1319.57,127.00 C1318.98,133.00 1318.37,139.17 1317.77,145.00 C1317.17,150.83 1316.58,156.50 1315.97,162.00 C1315.35,167.50 1314.75,172.33 1314.07,178.00 C1313.38,183.67 1312.38,190.17 1311.87,196.00 C1311.35,201.83 1311.23,207.17 1310.97,213.00 C1310.70,218.83 1310.47,225.00 1310.27,231.00 C1310.07,237.00 1309.90,243.00 1309.77,249.00 C1309.63,255.00 1309.55,261.17 1309.47,267.00 C1309.38,272.83 1309.33,278.17 1309.27,284.00 C1309.20,289.83 1309.13,296.33 1309.07,302.00 C1309.00,307.67 1309.13,311.83 1308.87,318.00 C1308.60,324.17 1307.70,335.50 1307.47,339.00 L1307.47,339.00 L1307.47,38.00 Z" fill="#f2bbbb"/>
<path d="M1307.47,38.00 C1308.80,38.17 1313.60,38.67 1315.47,39.00 C1317.33,39.33 1317.50,39.33 1318.67,40.00 C1319.83,40.67 1321.13,41.83 1322.47,43.00 C1323.80,44.17 1325.68,44.83 1326.67,47.00 C1327.65,49.17 1328.37,51.67 1328.37,56.00 C1328.37,60.33 1327.55,67.17 1326.67,73.00 C1325.78,78.83 1323.97,85.00 1323.07,91.00 C1322.17,97.00 1321.85,103.00 1321.27,109.00 C1320.68,115.00 1320.15,121.00 1319.57,127.00 C1318.98,133.00 1318.37,139.17 1317.77,145.00 C1317.17,150.83 1316.58,156.50 1315.97,162.00 C1315.35,167.50 1314.75,172.33 1314.07,178.00 C1313.38,183.67 1312.38,190.17 1311.87,196.00 C1311.35,201.83 1311.23,207.17 1310.97,213.00 C1310.70,218.83 1310.47,225.00 1310.27,231.00 C1310.07,237.00 1309.90,243.00 1309.77,249.00 C1309.63,255.00 1309.55,261.17 1309.47,267.00 C1309.38,272.83 1309.33,278.17 1309.27,284.00 C1309.20,289.83 1309.13,296.33 1309.07,302.00 C1309.00,307.67 1309.13,311.83 1308.87,318.00 C1308.60,324.17 1307.70,335.50 1307.47,339.00" fill="none" stroke="#c8caca" stroke-width="3.20" stroke-linejoin="round" stroke-linecap="round"/>
<line x1="805.40" y1="38.40" x2="1337.00" y2="38.40" stroke="#b0b0b0" stroke-width="2.40"/>
<line x1="805.40" y1="203.90" x2="1337.00" y2="203.90" stroke="#b0b0b0" stroke-width="2.40"/>
<line x1="805.40" y1="369.40" x2="1337.00" y2="369.40" stroke="#b0b0b0" stroke-width="2.40"/>
<line x1="805.40" y1="534.90" x2="1337.00" y2="534.90" stroke="#b0b0b0" stroke-width="2.40"/>
<line x1="805.40" y1="700.40" x2="1337.00" y2="700.40" stroke="#b0b0b0" stroke-width="2.40"/>
<line x1="834.93" y1="38.40" x2="834.93" y2="700.40" stroke="#b0b0b0" stroke-width="2.40"/>
<line x1="894.00" y1="38.40" x2="894.00" y2="700.40" stroke="#b0b0b0" stroke-width="2.40"/>
<line x1="953.07" y1="38.40" x2="953.07" y2="700.40" stroke="#b0b0b0" stroke-width="2.40"/>
<line x1="1012.13" y1="38.40" x2="1012.13" y2="700.40" stroke="#b0b0b0" stroke-width="2.40"/>
<line x1="1071.20" y1="38.40" x2="1071.20" y2="700.40" stroke="#b0b0b0" stroke-width="2.40"/>
<line x1="1130.27" y1="38.40" x2="1130.27" y2="700.40" stroke="#b0b0b0" stroke-width="2.40"/>
<line x1="1189.33" y1="38.40" x2="1189.33" y2="700.40" stroke="#b0b0b0" stroke-width="2.40"/>
<line x1="1248.40" y1="38.40" x2="1248.40" y2="700.40" stroke="#b0b0b0" stroke-width="2.40"/>
<line x1="1307.47" y1="38.40" x2="1307.47" y2="700.40" stroke="#b0b0b0" stroke-width="2.40"/>
<line x1="834.93" y1="30.00" x2="834.93" y2="712.00" stroke="#b0b0b0" stroke-width="4.00"/>
<line x1="894.00" y1="30.00" x2="894.00" y2="643.00" stroke="#b0b0b0" stroke-width="4.00"/>
<line x1="953.07" y1="30.00" x2="953.07" y2="601.00" stroke="#b0b0b0" stroke-width="4.00"/>
<line x1="1012.13" y1="30.00" x2="1012.13" y2="589.00" stroke="#b0b0b0" stroke-width="4.00"/>
<line x1="1071.20" y1="30.00" x2="1071.20" y2="522.00" stroke="#b0b0b0" stroke-width="4.00"/>
<line x1="1130.27" y1="30.00" x2="1130.27" y2="518.00" stroke="#b0b0b0" stroke-width="4.00"/>
<line x1="1189.33" y1="30.00" x2="1189.33" y2="475.00" stroke="#b0b0b0" stroke-width="4.00"/>
<line x1="1248.40" y1="30.00" x2="1248.40" y2="487.00" stroke="#b0b0b0" stroke-width="4.00"/>
<line x1="1307.47" y1="30.00" x2="1307.47" y2="442.00" stroke="#b0b0b0" stroke-width="4.00"/>
</g>
<path d="M848.56,204.60 L821.30,190.97 L821.30,218.23 Z" fill="#ff0000" stroke="#000" stroke-width="2.64" stroke-linejoin="round"/>
<path d="M821.30,353.90 L848.56,340.27 L848.56,367.53 Z" fill="#0000ff" stroke="#000" stroke-width="2.64" stroke-linejoin="round"/>
<path d="M907.63,181.90 L880.37,168.27 L880.37,195.53 Z" fill="#ff0000" stroke="#000" stroke-width="2.64" stroke-linejoin="round"/>
<path d="M880.37,328.20 L907.63,314.57 L907.63,341.83 Z" fill="#0000ff" stroke="#000" stroke-width="2.64" stroke-linejoin="round"/>
<path d="M966.70,162.70 L939.44,149.07 L939.44,176.33 Z" fill="#ff0000" stroke="#000" stroke-width="2.64" stroke-linejoin="round"/>
<path d="M939.44,305.40 L966.70,291.77 L966.70,319.03 Z" fill="#0000ff" stroke="#000" stroke-width="2.64" stroke-linejoin="round"/>
<path d="M1025.76,144.60 L998.50,130.97 L998.50,158.23 Z" fill="#ff0000" stroke="#000" stroke-width="2.64" stroke-linejoin="round"/>
<path d="M998.50,283.70 L1025.76,270.07 L1025.76,297.33 Z" fill="#0000ff" stroke="#000" stroke-width="2.64" stroke-linejoin="round"/>
<path d="M1084.83,129.90 L1057.57,116.27 L1057.57,143.53 Z" fill="#ff0000" stroke="#000" stroke-width="2.64" stroke-linejoin="round"/>
<path d="M1057.57,266.10 L1084.83,252.47 L1084.83,279.73 Z" fill="#0000ff" stroke="#000" stroke-width="2.64" stroke-linejoin="round"/>
<path d="M1143.90,116.20 L1116.64,102.57 L1116.64,129.83 Z" fill="#ff0000" stroke="#000" stroke-width="2.64" stroke-linejoin="round"/>
<path d="M1116.64,249.10 L1143.90,235.47 L1143.90,262.73 Z" fill="#0000ff" stroke="#000" stroke-width="2.64" stroke-linejoin="round"/>
<path d="M1202.96,106.50 L1175.70,92.87 L1175.70,120.13 Z" fill="#ff0000" stroke="#000" stroke-width="2.64" stroke-linejoin="round"/>
<path d="M1175.70,231.20 L1202.96,217.57 L1202.96,244.83 Z" fill="#0000ff" stroke="#000" stroke-width="2.64" stroke-linejoin="round"/>
<path d="M1262.03,98.00 L1234.77,84.37 L1234.77,111.63 Z" fill="#ff0000" stroke="#000" stroke-width="2.64" stroke-linejoin="round"/>
<path d="M1234.77,219.00 L1262.03,205.37 L1262.03,232.63 Z" fill="#0000ff" stroke="#000" stroke-width="2.64" stroke-linejoin="round"/>
<path d="M1321.10,88.30 L1293.84,74.67 L1293.84,101.93 Z" fill="#ff0000" stroke="#000" stroke-width="2.64" stroke-linejoin="round"/>
<path d="M1293.84,202.30 L1321.10,188.67 L1321.10,215.93 Z" fill="#0000ff" stroke="#000" stroke-width="2.64" stroke-linejoin="round"/>
<rect x="805.40" y="38.40" width="531.60" height="662.00" fill="none" stroke="#000" stroke-width="2.40"/>
<line x1="795.10" y1="38.40" x2="805.40" y2="38.40" stroke="#000" stroke-width="2.40"/>
<line x1="795.10" y1="203.90" x2="805.40" y2="203.90" stroke="#000" stroke-width="2.40"/>
<line x1="795.10" y1="369.40" x2="805.40" y2="369.40" stroke="#000" stroke-width="2.40"/>
<line x1="795.10" y1="534.90" x2="805.40" y2="534.90" stroke="#000" stroke-width="2.40"/>
<line x1="795.10" y1="700.40" x2="805.40" y2="700.40" stroke="#000" stroke-width="2.40"/>
<line x1="799.20" y1="154.08" x2="805.40" y2="154.08" stroke="#000" stroke-width="1.9"/>
<line x1="799.20" y1="124.94" x2="805.40" y2="124.94" stroke="#000" stroke-width="1.9"/>
<line x1="799.20" y1="104.26" x2="805.40" y2="104.26" stroke="#000" stroke-width="1.9"/>
<line x1="799.20" y1="88.22" x2="805.40" y2="88.22" stroke="#000" stroke-width="1.9"/>
<line x1="799.20" y1="75.12" x2="805.40" y2="75.12" stroke="#000" stroke-width="1.9"/>
<line x1="799.20" y1="64.04" x2="805.40" y2="64.04" stroke="#000" stroke-width="1.9"/>
<line x1="799.20" y1="54.44" x2="805.40" y2="54.44" stroke="#000" stroke-width="1.9"/>
<line x1="799.20" y1="45.97" x2="805.40" y2="45.97" stroke="#000" stroke-width="1.9"/>
<line x1="799.20" y1="319.58" x2="805.40" y2="319.58" stroke="#000" stroke-width="1.9"/>
<line x1="799.20" y1="290.44" x2="805.40" y2="290.44" stroke="#000" stroke-width="1.9"/>
<line x1="799.20" y1="269.76" x2="805.40" y2="269.76" stroke="#000" stroke-width="1.9"/>
<line x1="799.20" y1="253.72" x2="805.40" y2="253.72" stroke="#000" stroke-width="1.9"/>
<line x1="799.20" y1="240.62" x2="805.40" y2="240.62" stroke="#000" stroke-width="1.9"/>
<line x1="799.20" y1="229.54" x2="805.40" y2="229.54" stroke="#000" stroke-width="1.9"/>
<line x1="799.20" y1="219.94" x2="805.40" y2="219.94" stroke="#000" stroke-width="1.9"/>
<line x1="799.20" y1="211.47" x2="805.40" y2="211.47" stroke="#000" stroke-width="1.9"/>
<line x1="799.20" y1="485.08" x2="805.40" y2="485.08" stroke="#000" stroke-width="1.9"/>
<line x1="799.20" y1="455.94" x2="805.40" y2="455.94" stroke="#000" stroke-width="1.9"/>
<line x1="799.20" y1="435.26" x2="805.40" y2="435.26" stroke="#000" stroke-width="1.9"/>
<line x1="799.20" y1="419.22" x2="805.40" y2="419.22" stroke="#000" stroke-width="1.9"/>
<line x1="799.20" y1="406.12" x2="805.40" y2="406.12" stroke="#000" stroke-width="1.9"/>
<line x1="799.20" y1="395.04" x2="805.40" y2="395.04" stroke="#000" stroke-width="1.9"/>
<line x1="799.20" y1="385.44" x2="805.40" y2="385.44" stroke="#000" stroke-width="1.9"/>
<line x1="799.20" y1="376.97" x2="805.40" y2="376.97" stroke="#000" stroke-width="1.9"/>
<line x1="799.20" y1="650.58" x2="805.40" y2="650.58" stroke="#000" stroke-width="1.9"/>
<line x1="799.20" y1="621.44" x2="805.40" y2="621.44" stroke="#000" stroke-width="1.9"/>
<line x1="799.20" y1="600.76" x2="805.40" y2="600.76" stroke="#000" stroke-width="1.9"/>
<line x1="799.20" y1="584.72" x2="805.40" y2="584.72" stroke="#000" stroke-width="1.9"/>
<line x1="799.20" y1="571.62" x2="805.40" y2="571.62" stroke="#000" stroke-width="1.9"/>
<line x1="799.20" y1="560.54" x2="805.40" y2="560.54" stroke="#000" stroke-width="1.9"/>
<line x1="799.20" y1="550.94" x2="805.40" y2="550.94" stroke="#000" stroke-width="1.9"/>
<line x1="799.20" y1="542.47" x2="805.40" y2="542.47" stroke="#000" stroke-width="1.9"/>
<line x1="834.93" y1="700.40" x2="834.93" y2="710.70" stroke="#000" stroke-width="2.40"/>
<line x1="894.00" y1="700.40" x2="894.00" y2="710.70" stroke="#000" stroke-width="2.40"/>
<line x1="953.07" y1="700.40" x2="953.07" y2="710.70" stroke="#000" stroke-width="2.40"/>
<line x1="1012.13" y1="700.40" x2="1012.13" y2="710.70" stroke="#000" stroke-width="2.40"/>
<line x1="1071.20" y1="700.40" x2="1071.20" y2="710.70" stroke="#000" stroke-width="2.40"/>
<line x1="1130.27" y1="700.40" x2="1130.27" y2="710.70" stroke="#000" stroke-width="2.40"/>
<line x1="1189.33" y1="700.40" x2="1189.33" y2="710.70" stroke="#000" stroke-width="2.40"/>
<line x1="1248.40" y1="700.40" x2="1248.40" y2="710.70" stroke="#000" stroke-width="2.40"/>
<line x1="1307.47" y1="700.40" x2="1307.47" y2="710.70" stroke="#000" stroke-width="2.40"/>
<text x="149.91" y="741.4" font-size="30" textLength="17.49" lengthAdjust="spacingAndGlyphs">2</text>
<text x="209.47" y="741.4" font-size="30" textLength="17.49" lengthAdjust="spacingAndGlyphs">3</text>
<text x="267.98" y="741.4" font-size="30" textLength="17.49" lengthAdjust="spacingAndGlyphs">4</text>
<text x="327.54" y="741.4" font-size="30" textLength="17.49" lengthAdjust="spacingAndGlyphs">5</text>
<text x="386.06" y="741.4" font-size="30" textLength="17.49" lengthAdjust="spacingAndGlyphs">6</text>
<text x="445.09" y="741.4" font-size="30" textLength="17.49" lengthAdjust="spacingAndGlyphs">7</text>
<text x="504.65" y="741.4" font-size="30" textLength="17.49" lengthAdjust="spacingAndGlyphs">8</text>
<text x="563.69" y="741.4" font-size="30" textLength="17.49" lengthAdjust="spacingAndGlyphs">9</text>
<text x="613.29" y="741.4" font-size="30" textLength="34.98" lengthAdjust="spacingAndGlyphs">10</text>
<text x="673.38" y="741.4" font-size="30" textLength="32.65" lengthAdjust="spacingAndGlyphs">11</text>
<text x="731.37" y="741.4" font-size="30" textLength="34.98" lengthAdjust="spacingAndGlyphs">12</text>
<text x="826.03" y="741.4" font-size="30" textLength="17.49" lengthAdjust="spacingAndGlyphs">4</text>
<text x="885.62" y="741.4" font-size="30" textLength="17.49" lengthAdjust="spacingAndGlyphs">5</text>
<text x="944.16" y="741.4" font-size="30" textLength="17.49" lengthAdjust="spacingAndGlyphs">6</text>
<text x="1003.23" y="741.4" font-size="30" textLength="17.49" lengthAdjust="spacingAndGlyphs">7</text>
<text x="1062.82" y="741.4" font-size="30" textLength="17.49" lengthAdjust="spacingAndGlyphs">8</text>
<text x="1121.88" y="741.4" font-size="30" textLength="17.49" lengthAdjust="spacingAndGlyphs">9</text>
<text x="1171.52" y="741.4" font-size="30" textLength="34.98" lengthAdjust="spacingAndGlyphs">10</text>
<text x="1231.63" y="741.4" font-size="30" textLength="32.65" lengthAdjust="spacingAndGlyphs">11</text>
<text x="1289.65" y="741.4" font-size="30" textLength="34.98" lengthAdjust="spacingAndGlyphs">12</text>
<text x="59.82" y="47.70" font-size="29.5" font-family="Liberation Sans" textLength="34.14" lengthAdjust="spacingAndGlyphs">10</text>
<text x="95.13" y="37.30" font-size="21.5" font-family="Liberation Sans" textLength="12.81" lengthAdjust="spacingAndGlyphs">0</text>
<text x="42.78" y="214.50" font-size="29.5" font-family="Liberation Sans" textLength="34.80" lengthAdjust="spacingAndGlyphs">10</text>
<text x="79.05" y="204.70" font-size="21.5" font-family="Liberation Sans" textLength="14.39" lengthAdjust="spacingAndGlyphs">−</text>
<text x="94.74" y="203.90" font-size="21.5" font-family="Liberation Sans" textLength="11.70" lengthAdjust="spacingAndGlyphs">1</text>
<text x="42.78" y="379.10" font-size="29.5" font-family="Liberation Sans" textLength="34.80" lengthAdjust="spacingAndGlyphs">10</text>
<text x="79.05" y="369.60" font-size="21.5" font-family="Liberation Sans" textLength="14.39" lengthAdjust="spacingAndGlyphs">−</text>
<text x="94.79" y="368.80" font-size="21.5" font-family="Liberation Sans" textLength="12.09" lengthAdjust="spacingAndGlyphs">2</text>
<text x="42.78" y="544.70" font-size="29.5" font-family="Liberation Sans" textLength="34.80" lengthAdjust="spacingAndGlyphs">10</text>
<text x="79.05" y="534.70" font-size="21.5" font-family="Liberation Sans" textLength="14.39" lengthAdjust="spacingAndGlyphs">−</text>
<text x="94.76" y="533.90" font-size="21.5" font-family="Liberation Sans" textLength="12.45" lengthAdjust="spacingAndGlyphs">3</text>
<text x="42.78" y="711.20" font-size="29.5" font-family="Liberation Sans" textLength="34.80" lengthAdjust="spacingAndGlyphs">10</text>
<text x="79.05" y="701.40" font-size="21.5" font-family="Liberation Sans" textLength="14.39" lengthAdjust="spacingAndGlyphs">−</text>
<text x="94.76" y="700.60" font-size="21.5" font-family="Liberation Sans" textLength="12.45" lengthAdjust="spacingAndGlyphs">4</text>
<text x="387.01" y="785.50" font-size="31" font-family="Liberation Sans" textLength="562.04" lengthAdjust="spacingAndGlyphs">Number of Qubits in the Excitation Gate</text>
<g transform="translate(22,583.4) rotate(-90)">
<text x="0.00" y="0.00" font-size="31" font-family="Liberation Sans" textLength="372.90" lengthAdjust="spacingAndGlyphs">Average Circuit Infidelity 1</text>
<text x="380.35" y="0.00" font-size="31" font-family="Liberation Sans" textLength="21.25" lengthAdjust="spacingAndGlyphs">−</text>
</g>
<g fill="none" stroke="#000"><path d="M6.2,173.6 C4.3,171.2 3.5,166.5 3.5,161.5 C3.5,157.8 4.5,155.8 6.2,155.6 C7.4,155.5 8.2,156.2 8.0,157.0" stroke-width="1.4"/><circle cx="7.0" cy="157.0" r="1.25" fill="#000" stroke="none"/><path d="M3.8,164.7 C8,165.3 14,166.7 17.6,168.4 C19.5,169.3 20.6,170.8 21.3,172.6" stroke-width="2.8"/><path d="M11.4,159.9 L11.4,166.2" stroke-width="1.4"/></g>
<text x="129.78" y="19.30" font-size="31" font-family="Liberation Sans" textLength="8.39" lengthAdjust="spacingAndGlyphs">(</text>
<text x="158.74" y="19.30" font-size="31" font-family="Liberation Sans" textLength="9.89" lengthAdjust="spacingAndGlyphs">)</text>
<text x="806.30" y="19.30" font-size="31" font-family="Liberation Sans" textLength="7.23" lengthAdjust="spacingAndGlyphs">(</text>
<text x="836.83" y="19.30" font-size="31" font-family="Liberation Sans" textLength="7.97" lengthAdjust="spacingAndGlyphs">)</text>
<text x="141.19" y="21.70" font-size="31" font-family="Liberation Sans" textLength="14.02" lengthAdjust="spacingAndGlyphs">a</text>
<text x="817.34" y="21.70" font-size="31" font-family="Liberation Sans" textLength="17.74" lengthAdjust="spacingAndGlyphs">b</text>
<rect x="1084.8" y="595.6" width="238" height="91.2" rx="5.5" ry="5.5" fill="#fff" fill-opacity="0.8" stroke="#cecece" stroke-width="2.4"/>
<path d="M1137.93,618.40 L1110.67,604.77 L1110.67,632.03 Z" fill="#ff0000" stroke="#000" stroke-width="2.64" stroke-linejoin="round"/>
<path d="M1110.37,659.60 L1137.63,645.97 L1137.63,673.23 Z" fill="#0000ff" stroke="#000" stroke-width="2.64" stroke-linejoin="round"/>
<text x="1174.72" y="628.10" font-size="28.5" font-family="Liberation Sans" textLength="51.74" lengthAdjust="spacingAndGlyphs">Ref.</text>
<text x="1173.52" y="669.10" font-size="28.5" font-family="Liberation Sans" textLength="138.60" lengthAdjust="spacingAndGlyphs">This Work</text>
</svg></body></html>
